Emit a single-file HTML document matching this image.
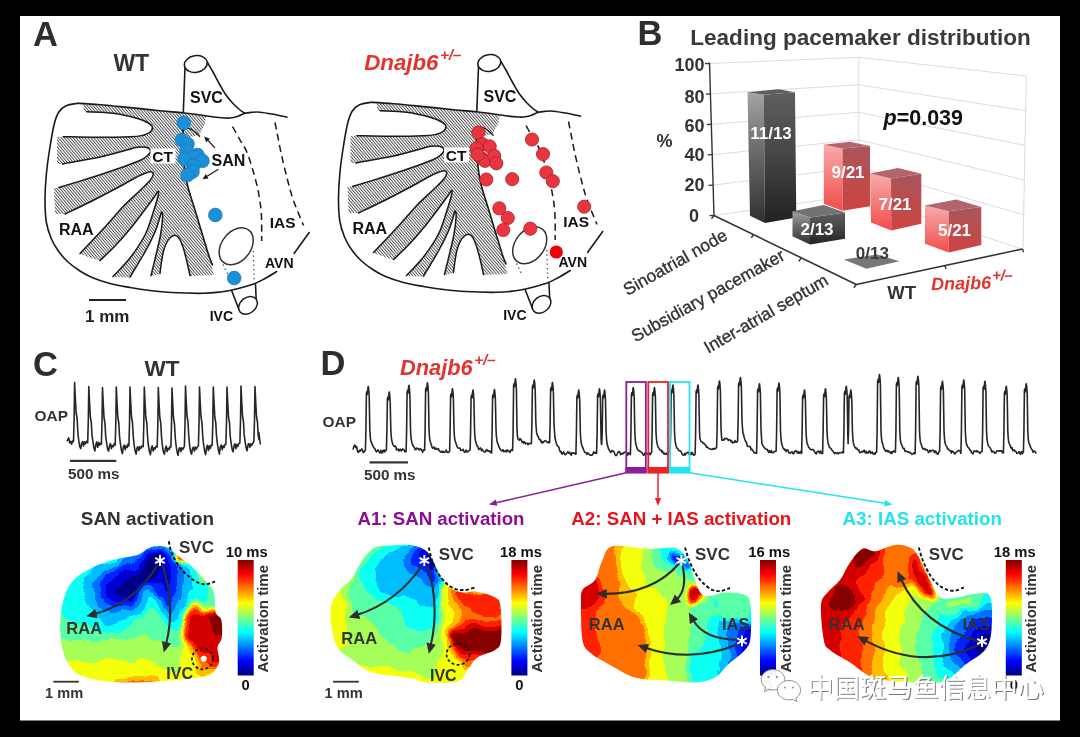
<!DOCTYPE html>
<html><head><meta charset="utf-8"><title>Figure</title>
<style>
html,body{margin:0;padding:0;background:#000;}
body{width:1080px;height:737px;overflow:hidden;font-family:"Liberation Sans",sans-serif;}
svg{display:block;filter:blur(0.45px);}
text{font-family:"Liberation Sans",sans-serif;}
</style></head><body>
<svg width="1080" height="737" viewBox="0 0 1080 737">
<defs><pattern id="hatch" patternUnits="userSpaceOnUse" width="2.25" height="2.25" patternTransform="rotate(50)"><rect width="2.25" height="2.25" fill="#fff"/><line x1="0" y1="1" x2="2.25" y2="1" stroke="#333" stroke-width="0.84"/></pattern><g id="atrium"><path d="M83.0 104.0 L130.0 107.8 L183.0 113.0 L206.0 116.2 L205.0 124.0 L199.0 135.0 L186.0 138.0 L184.0 150.0 L186.5 181.0 L195.0 210.0 L208.0 253.0 L214.0 275.0 L190.0 276.0 L160.0 274.0 L151.0 276.0 L130.0 277.5 L113.0 277.0 L100.0 261.0 L80.0 254.0 L55.0 214.0 L54.0 188.0 L57.0 164.0 L57.0 137.0 L84.0 112.0Z" fill="url(#hatch)"/><path d="M86.7 111.7 C91.1 112.0 105.0 112.2 113.3 113.3 C121.6 114.4 130.9 116.7 136.7 118.3 C142.5 119.9 145.7 121.5 148.3 123.0 C150.9 124.5 152.3 125.9 152.5 127.5 C152.7 129.1 151.1 131.2 149.5 132.5 C147.9 133.8 146.2 134.6 143.0 135.3 C139.8 136.0 137.7 136.5 130.0 136.8 C122.3 137.1 107.8 137.3 96.7 137.3 C85.6 137.3 68.9 136.8 63.3 136.7 L38.0 137.0 L38.0 111.7Z" fill="#fff"/><path d="M86.7 111.7 C91.1 112.0 105.0 112.2 113.3 113.3 C121.6 114.4 130.9 116.7 136.7 118.3 C142.5 119.9 145.7 121.5 148.3 123.0 C150.9 124.5 152.3 125.9 152.5 127.5 C152.7 129.1 151.1 131.2 149.5 132.5 C147.9 133.8 146.2 134.6 143.0 135.3 C139.8 136.0 137.7 136.5 130.0 136.8 C122.3 137.1 107.8 137.3 96.7 137.3 C85.6 137.3 68.9 136.8 63.3 136.7" fill="none" stroke="#1a1a1a" stroke-width="1.5" stroke-linecap="round"/><path d="M62.5 164.0 C68.8 162.8 89.6 159.2 100.0 157.0 C110.4 154.8 118.8 152.1 125.0 150.5 C131.2 148.9 133.5 147.8 137.0 147.3 C140.5 146.8 143.8 146.7 146.0 147.3 C148.2 147.9 150.3 149.6 150.5 151.0 C150.7 152.4 148.8 154.4 147.0 156.0 C145.2 157.6 144.5 158.5 140.0 160.5 C135.5 162.5 128.3 165.1 120.0 168.0 C111.7 170.9 100.2 174.8 90.0 178.0 C79.8 181.2 64.2 185.9 59.0 187.5 L35.0 190.0 L35.0 164.0Z" fill="#fff"/><path d="M62.5 164.0 C68.8 162.8 89.6 159.2 100.0 157.0 C110.4 154.8 118.8 152.1 125.0 150.5 C131.2 148.9 133.5 147.8 137.0 147.3 C140.5 146.8 143.8 146.7 146.0 147.3 C148.2 147.9 150.3 149.6 150.5 151.0 C150.7 152.4 148.8 154.4 147.0 156.0 C145.2 157.6 144.5 158.5 140.0 160.5 C135.5 162.5 128.3 165.1 120.0 168.0 C111.7 170.9 100.2 174.8 90.0 178.0 C79.8 181.2 64.2 185.9 59.0 187.5" fill="none" stroke="#1a1a1a" stroke-width="1.5" stroke-linecap="round"/><path d="M65.0 214.0 C69.2 212.0 81.7 206.2 90.0 202.0 C98.3 197.8 107.5 193.0 115.0 189.0 C122.5 185.0 130.0 180.6 135.0 178.0 C140.0 175.4 142.3 174.3 145.0 173.3 C147.7 172.3 149.6 171.6 151.0 171.8 C152.4 172.0 153.4 173.1 153.2 174.5 C153.0 175.9 152.2 177.8 150.0 180.5 C147.8 183.2 144.5 186.1 140.0 190.5 C135.5 194.9 128.8 200.6 123.0 206.7 C117.2 212.8 112.2 219.2 105.0 227.0 C97.8 234.8 84.2 249.1 80.0 253.5 L40.0 258.0 L40.0 214.0Z" fill="#fff"/><path d="M65.0 214.0 C69.2 212.0 81.7 206.2 90.0 202.0 C98.3 197.8 107.5 193.0 115.0 189.0 C122.5 185.0 130.0 180.6 135.0 178.0 C140.0 175.4 142.3 174.3 145.0 173.3 C147.7 172.3 149.6 171.6 151.0 171.8 C152.4 172.0 153.4 173.1 153.2 174.5 C153.0 175.9 152.2 177.8 150.0 180.5 C147.8 183.2 144.5 186.1 140.0 190.5 C135.5 194.9 128.8 200.6 123.0 206.7 C117.2 212.8 112.2 219.2 105.0 227.0 C97.8 234.8 84.2 249.1 80.0 253.5" fill="none" stroke="#1a1a1a" stroke-width="1.5" stroke-linecap="round"/><path d="M100.0 260.5 C102.5 258.1 110.0 251.2 115.0 246.0 C120.0 240.8 125.0 235.1 130.0 229.0 C135.0 222.9 140.8 215.0 145.0 209.5 C149.2 204.0 152.8 199.1 155.0 196.0 C157.2 192.9 157.8 191.0 158.3 191.2 C158.8 191.4 158.7 193.4 157.8 197.0 C156.9 200.6 155.1 206.7 153.0 213.0 C150.9 219.3 148.8 227.5 145.0 235.0 C141.2 242.5 135.3 251.1 130.0 258.0 C124.7 264.9 115.8 273.4 113.0 276.5 L105.0 282.0Z" fill="#fff"/><path d="M100.0 260.5 C102.5 258.1 110.0 251.2 115.0 246.0 C120.0 240.8 125.0 235.1 130.0 229.0 C135.0 222.9 140.8 215.0 145.0 209.5 C149.2 204.0 152.8 199.1 155.0 196.0 C157.2 192.9 157.8 191.0 158.3 191.2 C158.8 191.4 158.7 193.4 157.8 197.0 C156.9 200.6 155.1 206.7 153.0 213.0 C150.9 219.3 148.8 227.5 145.0 235.0 C141.2 242.5 135.3 251.1 130.0 258.0 C124.7 264.9 115.8 273.4 113.0 276.5" fill="none" stroke="#1a1a1a" stroke-width="1.5" stroke-linecap="round"/><path d="M130.0 277.0 C132.5 272.8 140.8 259.5 145.0 252.0 C149.2 244.5 152.5 237.8 155.0 232.0 C157.5 226.2 158.9 220.3 160.0 217.0 C161.1 213.7 161.3 211.8 161.7 212.0 C162.1 212.2 162.8 214.2 162.6 218.0 C162.4 221.8 161.6 228.8 160.5 235.0 C159.4 241.2 157.6 248.2 156.0 255.0 C154.4 261.8 151.8 272.1 151.0 275.5 L140.0 283.0Z" fill="#fff"/><path d="M130.0 277.0 C132.5 272.8 140.8 259.5 145.0 252.0 C149.2 244.5 152.5 237.8 155.0 232.0 C157.5 226.2 158.9 220.3 160.0 217.0 C161.1 213.7 161.3 211.8 161.7 212.0 C162.1 212.2 162.8 214.2 162.6 218.0 C162.4 221.8 161.6 228.8 160.5 235.0 C159.4 241.2 157.6 248.2 156.0 255.0 C154.4 261.8 151.8 272.1 151.0 275.5" fill="none" stroke="#1a1a1a" stroke-width="1.5" stroke-linecap="round"/><path d="M160.0 273.5 C160.2 271.6 160.9 265.8 161.5 262.0 C162.1 258.2 162.6 254.3 163.5 251.0 C164.4 247.7 165.8 244.3 167.0 242.0 C168.2 239.7 169.7 238.1 171.0 237.0 C172.3 235.9 173.7 235.1 175.0 235.3 C176.3 235.5 177.7 236.1 179.0 238.0 C180.3 239.9 181.7 243.0 183.0 247.0 C184.3 251.0 185.8 257.2 187.0 262.0 C188.2 266.8 189.5 273.2 190.0 275.5 L190.0 282.0 L160.0 282.0Z" fill="#fff"/><path d="M160.0 273.5 C160.2 271.6 160.9 265.8 161.5 262.0 C162.1 258.2 162.6 254.3 163.5 251.0 C164.4 247.7 165.8 244.3 167.0 242.0 C168.2 239.7 169.7 238.1 171.0 237.0 C172.3 235.9 173.7 235.1 175.0 235.3 C176.3 235.5 177.7 236.1 179.0 238.0 C180.3 239.9 181.7 243.0 183.0 247.0 C184.3 251.0 185.8 257.2 187.0 262.0 C188.2 266.8 189.5 273.2 190.0 275.5" fill="none" stroke="#1a1a1a" stroke-width="1.5" stroke-linecap="round"/><path d="M78.0 103.3 C76.0 103.7 69.2 104.3 66.0 105.8 C62.8 107.3 60.5 109.3 58.5 112.5 C56.5 115.7 55.5 118.8 54.0 125.0 C52.5 131.2 50.8 141.7 49.5 150.0 C48.2 158.3 47.0 166.7 46.3 175.0 C45.5 183.3 45.0 192.2 45.0 200.0 C45.0 207.8 45.3 215.7 46.3 222.0 C47.3 228.3 49.0 233.2 51.0 238.0 C53.0 242.8 55.2 246.5 58.0 250.5 C60.8 254.5 64.3 258.6 68.0 262.0 C71.7 265.4 76.0 268.4 80.0 271.0 C84.0 273.6 87.0 275.4 92.0 277.5 C97.0 279.6 103.7 281.8 110.0 283.5 C116.3 285.2 123.3 286.3 130.0 287.5 C136.7 288.7 143.0 289.7 150.0 290.5 C157.0 291.3 163.2 292.0 172.0 292.5 C180.8 293.0 195.0 293.4 203.0 293.3 C211.0 293.2 215.2 292.6 220.0 292.0 C224.8 291.4 226.5 291.3 232.0 290.0 C237.5 288.7 247.5 286.1 253.0 284.2 C258.5 282.3 261.1 280.6 265.0 278.5 C268.9 276.4 274.8 272.7 276.7 271.5" fill="none" stroke="#1a1a1a" stroke-width="1.6" stroke-linecap="round" stroke-linejoin="round"/><path d="M78.0 103.3 C81.7 103.5 91.3 104.0 100.0 104.7 C108.7 105.4 120.0 106.6 130.0 107.6 C140.0 108.6 151.2 109.8 160.0 110.7 C168.8 111.6 176.3 112.1 183.0 112.8 C189.7 113.5 195.2 114.3 200.0 115.0 C204.8 115.7 207.8 116.3 212.0 116.8 C216.2 117.3 221.7 117.8 225.0 118.0 C228.3 118.2 229.8 118.1 232.0 117.8 C234.2 117.5 235.8 117.0 238.0 116.2 C240.2 115.5 242.7 114.0 245.0 113.3 C247.3 112.6 249.5 112.5 252.0 112.3 C254.5 112.1 256.7 111.9 260.0 112.2 C263.3 112.5 267.5 113.2 272.0 114.0 C276.5 114.8 284.5 116.7 287.0 117.2" fill="none" stroke="#1a1a1a" stroke-width="1.6" stroke-linecap="round" stroke-linejoin="round"/><path d="M183.3 112.5 L185 67.5" fill="none" stroke="#1a1a1a" stroke-width="1.6" stroke-linecap="round" stroke-linejoin="round"/><path d="M207.5 62.5 C208.4 64.1 210.9 68.2 213.0 72.0 C215.1 75.8 217.8 81.2 220.0 85.0 C222.2 88.8 223.8 91.9 226.0 95.0 C228.2 98.1 230.7 101.0 233.0 103.5 C235.3 106.0 238.0 108.4 240.0 110.0 C242.0 111.6 244.2 112.8 245.0 113.3" fill="none" stroke="#1a1a1a" stroke-width="1.6" stroke-linecap="round" stroke-linejoin="round"/><ellipse cx="195.8" cy="64" rx="11.5" ry="8.3" transform="rotate(-9 195.8 64)" fill="#fff" stroke="#1a1a1a" stroke-width="1.5"/><path d="M183.3 128.0 C183.2 131.7 182.5 141.2 183.0 150.0 C183.5 158.8 184.5 171.0 186.5 181.0 C188.5 191.0 191.4 198.0 195.0 210.0 C198.6 222.0 205.1 243.8 208.0 253.0 C210.9 262.2 211.8 263.0 212.5 265.0" fill="none" stroke="#1a1a1a" stroke-width="1.6" stroke-linecap="round" stroke-linejoin="round"/><path d="M181.7 131.0 C182.2 130.6 183.8 129.0 185.0 128.6 C186.2 128.2 187.4 127.8 189.0 128.3 C190.6 128.8 192.7 130.1 194.5 131.5 C196.3 132.9 199.1 135.8 200.0 136.7" fill="none" stroke="#1a1a1a" stroke-width="1.3"/><path d="M232.5 126.7 C233.8 128.9 237.6 135.8 240.0 140.0 C242.4 144.2 244.5 146.4 246.7 151.7 C248.9 157.0 251.4 165.0 253.3 171.7 C255.2 178.4 257.0 184.8 258.3 191.7 C259.6 198.6 260.7 205.1 261.3 213.3 C261.9 221.5 261.6 236.4 261.7 241.0" fill="none" stroke="#1a1a1a" stroke-width="1.5" stroke-dasharray="7 4.5"/><path d="M275.0 122.5 C275.4 124.6 276.5 130.1 277.5 135.0 C278.5 139.9 279.3 144.8 280.8 151.7 C282.3 158.6 284.6 168.6 286.7 176.7 C288.8 184.8 290.5 191.9 293.3 200.0 C296.1 208.1 301.8 221.2 303.5 225.5" fill="none" stroke="#1a1a1a" stroke-width="1.5" stroke-dasharray="7 4.5"/><path d="M309.2 232.5 L294.2 253.3" fill="none" stroke="#1a1a1a" stroke-width="1.6" stroke-linecap="round" stroke-linejoin="round"/><ellipse cx="236.2" cy="246.3" rx="20.5" ry="14.5" transform="rotate(-52 236.2 246.3)" fill="none" stroke="#333" stroke-width="1.5"/><path d="M223 264.5 L228.6 276" fill="none" stroke="#444" stroke-width="1.3" stroke-dasharray="1.3 3.2"/><path d="M253.3 251 L254.3 282.5" fill="none" stroke="#444" stroke-width="1.3" stroke-dasharray="1.3 3.2"/><path d="M231.7 290.8 L239.2 310" fill="none" stroke="#1a1a1a" stroke-width="1.6" stroke-linecap="round" stroke-linejoin="round"/><path d="M255.5 284.2 L256.3 302.5" fill="none" stroke="#1a1a1a" stroke-width="1.6" stroke-linecap="round" stroke-linejoin="round"/><ellipse cx="248" cy="305.3" rx="10.3" ry="7.8" transform="rotate(-40 248 305.3)" fill="#fff" stroke="#1a1a1a" stroke-width="1.5"/><rect x="150.5" y="148.5" width="25" height="15" fill="#fff"/><text x="152.3" y="161.8" font-size="15.5" font-family="Liberation Sans, sans-serif" font-weight="bold" fill="#111">CT</text><text x="59" y="235" font-size="16" font-family="Liberation Sans, sans-serif" font-weight="bold" fill="#111">RAA</text><text x="190" y="103.3" font-size="16" font-family="Liberation Sans, sans-serif" font-weight="bold" fill="#111">SVC</text><text x="269.7" y="227.6" font-size="15.5" font-family="Liberation Sans, sans-serif" font-weight="bold" fill="#111">IAS</text><text x="265" y="268.3" font-size="14" font-family="Liberation Sans, sans-serif" font-weight="bold" fill="#111">AVN</text><text x="209.7" y="320.8" font-size="14" font-family="Liberation Sans, sans-serif" font-weight="bold" fill="#111">IVC</text></g><linearGradient id="gL" x1="0" y1="0" x2="0" y2="1"><stop offset="0" stop-color="#a4a4a4"/><stop offset="0.45" stop-color="#6a6a6a"/><stop offset="1" stop-color="#303030"/></linearGradient><linearGradient id="gF" x1="0" y1="0" x2="0" y2="1"><stop offset="0" stop-color="#5e5e5e"/><stop offset="0.5" stop-color="#444"/><stop offset="1" stop-color="#222"/></linearGradient><linearGradient id="rL" x1="0" y1="0" x2="0" y2="1"><stop offset="0" stop-color="#f7abab"/><stop offset="1" stop-color="#f24c4a"/></linearGradient><linearGradient id="rF" x1="0" y1="0" x2="0" y2="1"><stop offset="0" stop-color="#a8565c"/><stop offset="1" stop-color="#cf4341"/></linearGradient><filter id="jet" filterUnits="userSpaceOnUse" x="0" y="500" width="1080" height="237" color-interpolation-filters="sRGB"><feGaussianBlur in="SourceGraphic" stdDeviation="3.2" result="b"/><feTurbulence type="fractalNoise" baseFrequency="0.05" numOctaves="2" seed="4" result="t"/><feDisplacementMap in="b" in2="t" scale="13" xChannelSelector="R" yChannelSelector="G" result="d"/><feComponentTransfer in="d"><feFuncR type="discrete" tableValues="0.000 0.000 0.000 0.000 0.000 0.046 0.349 0.651 0.954 1.000 1.000 1.000 0.834 0.531"/><feFuncG type="discrete" tableValues="0.000 0.000 0.137 0.440 0.743 1.000 1.000 1.000 1.000 0.743 0.440 0.137 0.000 0.000"/><feFuncB type="discrete" tableValues="0.531 0.834 1.000 1.000 1.000 0.954 0.651 0.349 0.046 0.000 0.000 0.000 0.000 0.000"/></feComponentTransfer></filter><linearGradient id="cbar" x1="0" y1="1" x2="0" y2="0"><stop offset="0.000" stop-color="#00007f"/><stop offset="0.031" stop-color="#00009f"/><stop offset="0.062" stop-color="#0000bf"/><stop offset="0.094" stop-color="#0000df"/><stop offset="0.125" stop-color="#0000ff"/><stop offset="0.156" stop-color="#001fff"/><stop offset="0.188" stop-color="#003fff"/><stop offset="0.219" stop-color="#005fff"/><stop offset="0.250" stop-color="#007fff"/><stop offset="0.281" stop-color="#009fff"/><stop offset="0.312" stop-color="#00bfff"/><stop offset="0.344" stop-color="#00dfff"/><stop offset="0.375" stop-color="#00ffff"/><stop offset="0.406" stop-color="#1fffdf"/><stop offset="0.438" stop-color="#3fffbf"/><stop offset="0.469" stop-color="#5fff9f"/><stop offset="0.500" stop-color="#7fff7f"/><stop offset="0.531" stop-color="#9fff5f"/><stop offset="0.562" stop-color="#bfff3f"/><stop offset="0.594" stop-color="#dfff1f"/><stop offset="0.625" stop-color="#ffff00"/><stop offset="0.656" stop-color="#ffdf00"/><stop offset="0.688" stop-color="#ffbf00"/><stop offset="0.719" stop-color="#ff9f00"/><stop offset="0.750" stop-color="#ff7f00"/><stop offset="0.781" stop-color="#ff5f00"/><stop offset="0.812" stop-color="#ff3f00"/><stop offset="0.844" stop-color="#ff1f00"/><stop offset="0.875" stop-color="#ff0000"/><stop offset="0.906" stop-color="#df0000"/><stop offset="0.938" stop-color="#bf0000"/><stop offset="0.969" stop-color="#9f0000"/><stop offset="1.000" stop-color="#7f0000"/></linearGradient><linearGradient id="gA2" gradientUnits="userSpaceOnUse" x1="582.0" y1="0.0" x2="748.0" y2="0.0"><stop offset="0.00" stop-color="rgb(214,214,214)"/><stop offset="0.09" stop-color="rgb(200,200,200)"/><stop offset="0.24" stop-color="rgb(182,182,182)"/><stop offset="0.31" stop-color="rgb(164,164,164)"/><stop offset="0.50" stop-color="rgb(146,146,146)"/><stop offset="0.66" stop-color="rgb(128,128,128)"/><stop offset="0.75" stop-color="rgb(110,110,110)"/><stop offset="0.82" stop-color="rgb(91,91,91)"/><stop offset="0.88" stop-color="rgb(73,73,73)"/><stop offset="0.93" stop-color="rgb(55,55,55)"/><stop offset="0.97" stop-color="rgb(36,36,36)"/><stop offset="1.00" stop-color="rgb(20,20,20)"/></linearGradient><radialGradient id="gA3" gradientUnits="userSpaceOnUse" cx="986" cy="646" r="170"><stop offset="0.00" stop-color="rgb(0,0,0)"/><stop offset="0.09" stop-color="rgb(26,26,26)"/><stop offset="0.16" stop-color="rgb(51,51,51)"/><stop offset="0.22" stop-color="rgb(76,76,76)"/><stop offset="0.29" stop-color="rgb(102,102,102)"/><stop offset="0.38" stop-color="rgb(122,122,122)"/><stop offset="0.45" stop-color="rgb(135,135,135)"/><stop offset="0.53" stop-color="rgb(148,148,148)"/><stop offset="0.61" stop-color="rgb(163,163,163)"/><stop offset="0.69" stop-color="rgb(189,189,189)"/><stop offset="0.75" stop-color="rgb(204,204,204)"/><stop offset="0.85" stop-color="rgb(219,219,219)"/><stop offset="1.00" stop-color="rgb(230,230,230)"/></radialGradient><clipPath id="clipC"><path d="M155.0 546.3 C157.6 545.9 160.5 546.1 163.0 546.5 C165.5 546.9 167.2 547.0 170.0 548.8 C172.8 550.6 176.7 554.8 180.0 557.5 C183.3 560.2 185.8 561.2 190.0 565.0 C194.2 568.8 201.0 575.4 205.0 580.0 C209.0 584.6 212.1 587.2 213.8 592.5 C215.6 597.8 214.2 607.4 215.5 612.0 C216.8 616.6 220.2 615.8 221.3 620.0 C222.4 624.2 222.4 632.9 221.8 637.5 C221.2 642.1 218.0 643.3 217.5 647.5 C217.0 651.7 220.2 657.9 219.0 662.5 C217.8 667.1 214.4 672.4 210.0 675.0 C205.6 677.6 199.2 677.1 192.5 678.0 C185.8 678.9 179.6 679.8 170.0 680.5 C160.4 681.2 145.8 682.4 135.0 682.5 C124.2 682.6 114.2 682.5 105.0 681.3 C95.8 680.0 86.2 678.1 80.0 675.0 C73.8 671.9 70.6 667.9 67.5 662.5 C64.4 657.1 62.5 650.0 61.3 642.5 C60.1 635.0 59.9 625.4 60.5 617.5 C61.1 609.6 62.6 601.5 65.0 595.0 C67.4 588.5 70.0 583.6 75.0 578.8 C80.0 574.0 87.9 569.6 95.0 566.3 C102.1 563.0 110.4 560.7 117.5 558.8 C124.6 556.9 132.5 556.7 137.5 555.0 C142.5 553.3 144.6 550.2 147.5 548.8 C150.4 547.3 152.4 546.7 155.0 546.3Z"/></clipPath><clipPath id="clipA1"><path d="M375.0 547.5 C379.9 545.1 386.2 545.9 392.0 545.5 C397.8 545.1 404.5 544.2 410.0 545.0 C415.5 545.8 421.2 547.5 425.0 550.0 C428.8 552.5 430.0 555.8 432.5 560.0 C435.0 564.2 437.1 570.4 440.0 575.0 C442.9 579.6 446.2 584.6 450.0 587.5 C453.8 590.4 458.3 591.9 462.5 592.5 C466.7 593.1 469.6 590.5 475.0 591.3 C480.4 592.1 490.8 595.0 495.0 597.5 C499.2 600.0 499.5 598.9 500.5 606.0 C501.5 613.1 501.9 632.7 501.0 640.0 C500.1 647.3 498.9 647.1 495.0 650.0 C491.1 652.9 482.1 654.2 477.5 657.5 C472.9 660.8 470.8 666.0 467.5 670.0 C464.2 674.0 464.2 679.4 457.5 681.5 C450.8 683.6 435.4 683.1 427.5 682.5 C419.6 681.9 419.2 679.7 410.0 678.0 C400.8 676.3 382.1 675.5 372.5 672.5 C362.9 669.5 358.3 664.2 352.5 660.0 C346.7 655.8 341.0 653.3 337.5 647.5 C334.0 641.7 332.3 632.1 331.3 625.0 C330.3 617.9 329.9 610.8 331.3 605.0 C332.8 599.2 336.5 594.6 340.0 590.0 C343.5 585.4 348.8 582.5 352.5 577.5 C356.2 572.5 358.8 565.0 362.5 560.0 C366.2 555.0 370.1 549.9 375.0 547.5Z"/></clipPath><clipPath id="clipA2"><path d="M612.5 546.3 C620.0 544.4 637.5 548.6 647.5 548.8 C657.5 549.0 666.7 546.9 672.5 547.5 C678.3 548.1 679.6 549.6 682.5 552.5 C685.4 555.4 687.9 560.4 690.0 565.0 C692.1 569.6 693.1 575.2 695.0 580.0 C696.9 584.8 698.8 591.1 701.3 593.8 C703.8 596.5 706.0 596.2 710.0 596.0 C714.0 595.8 719.2 592.7 725.0 592.5 C730.8 592.3 740.8 592.9 745.0 595.0 C749.2 597.1 749.6 597.9 750.5 605.0 C751.4 612.1 751.4 630.0 750.5 637.5 C749.6 645.0 748.8 645.4 745.0 650.0 C741.2 654.6 732.5 660.4 727.5 665.0 C722.5 669.6 720.4 674.6 715.0 677.5 C709.6 680.4 703.3 682.0 695.0 682.5 C686.7 683.0 675.0 681.3 665.0 680.5 C655.0 679.7 644.2 680.1 635.0 677.5 C625.8 674.9 617.5 669.2 610.0 665.0 C602.5 660.8 594.6 656.7 590.0 652.5 C585.4 648.3 584.0 647.9 582.5 640.0 C581.0 632.1 581.0 613.3 581.0 605.0 C581.0 596.7 580.2 594.2 582.5 590.0 C584.8 585.8 591.7 585.0 595.0 580.0 C598.3 575.0 599.6 565.6 602.5 560.0 C605.4 554.4 605.0 548.2 612.5 546.3Z"/></clipPath><clipPath id="clipA3"><path d="M862.5 548.8 C866.7 546.9 869.6 551.9 875.0 551.3 C880.4 550.7 889.2 545.6 895.0 545.0 C900.8 544.4 906.2 545.8 910.0 547.5 C913.8 549.2 915.0 551.2 917.5 555.0 C920.0 558.8 922.5 565.0 925.0 570.0 C927.5 575.0 930.0 580.4 932.5 585.0 C935.0 589.6 936.2 595.3 940.0 597.5 C943.8 599.7 949.2 598.6 955.0 598.0 C960.8 597.4 969.2 594.1 975.0 593.8 C980.8 593.5 987.2 590.3 990.0 596.3 C992.8 602.3 992.3 621.0 991.5 630.0 C990.7 639.0 989.4 644.2 985.0 650.0 C980.6 655.8 971.2 660.0 965.0 665.0 C958.8 670.0 953.3 677.0 947.5 680.0 C941.7 683.0 937.9 682.8 930.0 683.0 C922.1 683.2 909.6 682.4 900.0 681.5 C890.4 680.6 880.8 680.7 872.5 677.5 C864.2 674.3 857.1 667.1 850.0 662.5 C842.9 657.9 834.4 653.8 830.0 650.0 C825.6 646.2 825.3 647.5 823.8 640.0 C822.3 632.5 820.4 612.9 821.0 605.0 C821.6 597.1 824.3 596.7 827.5 592.5 C830.7 588.3 836.2 585.0 840.0 580.0 C843.8 575.0 846.2 567.7 850.0 562.5 C853.8 557.3 858.3 550.7 862.5 548.8Z"/></clipPath></defs>
<rect x="0" y="0" width="1080" height="737" fill="#000"/>
<rect x="20" y="16" width="1040" height="704.5" fill="#fff"/>
<text x="33" y="45.6" font-size="34.5" font-family="Liberation Sans, sans-serif" font-weight="bold" fill="#2e2e2e">A</text><text x="113.4" y="71.1" font-size="23" font-family="Liberation Sans, sans-serif" font-weight="bold" fill="#333">WT</text><use href="#atrium"/><text x="211.5" y="165.8" font-size="16" font-family="Liberation Sans, sans-serif" font-weight="bold" fill="#111">SAN</text><path d="M215.0 147.8 L208.0 140.5" stroke="#1a1a1a" stroke-width="1.2"/><path d="M204.2 136.5 L209.9 138.7 L206.1 142.3 Z" fill="#1a1a1a"/><path d="M218.3 169.2 L207.1 176.3" stroke="#1a1a1a" stroke-width="1.2"/><path d="M202.5 179.2 L205.8 174.1 L208.5 178.5 Z" fill="#1a1a1a"/><circle cx="183.7" cy="122.8" r="6.9" fill="#1b8fd8" stroke="#1576b8" stroke-width="0.6"/><circle cx="182.0" cy="140.0" r="6.9" fill="#1b8fd8" stroke="#1576b8" stroke-width="0.6"/><circle cx="187.5" cy="144.0" r="6.9" fill="#1b8fd8" stroke="#1576b8" stroke-width="0.6"/><circle cx="186.7" cy="150.8" r="6.9" fill="#1b8fd8" stroke="#1576b8" stroke-width="0.6"/><circle cx="197.5" cy="155.0" r="6.9" fill="#1b8fd8" stroke="#1576b8" stroke-width="0.6"/><circle cx="193.3" cy="157.5" r="6.9" fill="#1b8fd8" stroke="#1576b8" stroke-width="0.6"/><circle cx="184.7" cy="159.0" r="6.9" fill="#1b8fd8" stroke="#1576b8" stroke-width="0.6"/><circle cx="202.5" cy="160.8" r="6.9" fill="#1b8fd8" stroke="#1576b8" stroke-width="0.6"/><circle cx="193.3" cy="165.8" r="6.9" fill="#1b8fd8" stroke="#1576b8" stroke-width="0.6"/><circle cx="192.5" cy="171.7" r="6.9" fill="#1b8fd8" stroke="#1576b8" stroke-width="0.6"/><circle cx="187.5" cy="175.0" r="6.9" fill="#1b8fd8" stroke="#1576b8" stroke-width="0.6"/><circle cx="215.3" cy="215.0" r="6.9" fill="#1b8fd8" stroke="#1576b8" stroke-width="0.6"/><circle cx="234.2" cy="278.0" r="6.9" fill="#1b8fd8" stroke="#1576b8" stroke-width="0.6"/><rect x="89" y="299" width="37" height="2" fill="#222"/><text x="85" y="321.8" font-size="17" font-family="Liberation Sans, sans-serif" font-weight="bold" fill="#222">1 mm</text><use href="#atrium" transform="translate(293.5 -1.0)"/><text x="364.2" y="69.8" font-size="22.3" font-style="italic" font-family="Liberation Sans, sans-serif" font-weight="bold" fill="#e0352f">Dnajb6<tspan font-size="15.5" dy="-9.8" dx="1.5" letter-spacing="-0.3">+/–</tspan></text><circle cx="478.3" cy="132.5" r="6.6" fill="#e9353f" stroke="#a8232c" stroke-width="0.8"/><circle cx="482.5" cy="144.2" r="6.6" fill="#e9353f" stroke="#a8232c" stroke-width="0.8"/><circle cx="476.7" cy="148.3" r="6.6" fill="#e9353f" stroke="#a8232c" stroke-width="0.8"/><circle cx="489.7" cy="146.3" r="6.6" fill="#e9353f" stroke="#a8232c" stroke-width="0.8"/><circle cx="481.7" cy="158.3" r="6.6" fill="#e9353f" stroke="#a8232c" stroke-width="0.8"/><circle cx="485.0" cy="160.8" r="6.6" fill="#e9353f" stroke="#a8232c" stroke-width="0.8"/><circle cx="494.2" cy="155.8" r="6.6" fill="#e9353f" stroke="#a8232c" stroke-width="0.8"/><circle cx="477.5" cy="154.7" r="6.6" fill="#e9353f" stroke="#a8232c" stroke-width="0.8"/><circle cx="496.3" cy="163.3" r="6.6" fill="#e9353f" stroke="#a8232c" stroke-width="0.8"/><circle cx="486.3" cy="179.5" r="6.6" fill="#e9353f" stroke="#a8232c" stroke-width="0.8"/><circle cx="512.2" cy="179.2" r="6.6" fill="#e9353f" stroke="#a8232c" stroke-width="0.8"/><circle cx="532.0" cy="139.5" r="6.6" fill="#e9353f" stroke="#a8232c" stroke-width="0.8"/><circle cx="543.0" cy="154.2" r="6.6" fill="#e9353f" stroke="#a8232c" stroke-width="0.8"/><circle cx="546.3" cy="172.5" r="6.6" fill="#e9353f" stroke="#a8232c" stroke-width="0.8"/><circle cx="552.8" cy="181.2" r="6.6" fill="#e9353f" stroke="#a8232c" stroke-width="0.8"/><circle cx="584.2" cy="206.7" r="6.6" fill="#e9353f" stroke="#a8232c" stroke-width="0.8"/><circle cx="499.3" cy="208.3" r="6.6" fill="#e9353f" stroke="#a8232c" stroke-width="0.8"/><circle cx="507.8" cy="218.0" r="6.6" fill="#e9353f" stroke="#a8232c" stroke-width="0.8"/><circle cx="503.3" cy="230.0" r="6.6" fill="#e9353f" stroke="#a8232c" stroke-width="0.8"/><circle cx="530.3" cy="228.7" r="6.6" fill="#e9353f" stroke="#a8232c" stroke-width="0.8"/><circle cx="556.3" cy="252" r="6.6" fill="#f00008"/>
<text x="637.5" y="45.4" font-size="34.5" font-family="Liberation Sans, sans-serif" font-weight="bold" fill="#2e2e2e">B</text><text x="690.3" y="45.3" font-size="21.6" font-family="Liberation Sans, sans-serif" font-weight="bold" fill="#3a3a3a" textLength="340.5" lengthAdjust="spacingAndGlyphs">Leading pacemaker distribution</text><path d="M709.5 63.5 L858.8 57.3 L1026.3 76.0" fill="none" stroke="#dcdcdc" stroke-width="1"/><path d="M705.0 63.7 L709.5 63.5" stroke="#333" stroke-width="1.3"/><path d="M710.4 93.9 L858.8 84.8 L1025.6 110.7" fill="none" stroke="#dcdcdc" stroke-width="1"/><path d="M705.9 94.1 L710.4 93.9" stroke="#333" stroke-width="1.3"/><path d="M711.3 124.3 L858.8 112.3 L1025.0 145.4" fill="none" stroke="#dcdcdc" stroke-width="1"/><path d="M706.8 124.5 L711.3 124.3" stroke="#333" stroke-width="1.3"/><path d="M712.2 154.7 L858.8 139.8 L1024.3 180.1" fill="none" stroke="#dcdcdc" stroke-width="1"/><path d="M707.7 154.9 L712.2 154.7" stroke="#333" stroke-width="1.3"/><path d="M713.1 185.1 L858.8 167.3 L1023.7 214.8" fill="none" stroke="#dcdcdc" stroke-width="1"/><path d="M708.6 185.3 L713.1 185.1" stroke="#333" stroke-width="1.3"/><path d="M714.0 215.5 L858.8 194.8 L1023.0 249.5" fill="none" stroke="#dcdcdc" stroke-width="1"/><path d="M709.5 215.7 L714.0 215.5" stroke="#333" stroke-width="1.3"/><path d="M858.8 57.3 L858.8 194.8" stroke="#dcdcdc" stroke-width="1"/><path d="M1026.3 76.0 L1023.0 249.5" stroke="#dcdcdc" stroke-width="1"/><path d="M709.5 62.5 L714.0 215.5" stroke="#333" stroke-width="1.4"/><text x="704.5" y="71.3" font-size="18" text-anchor="end" font-family="Liberation Sans, sans-serif" font-weight="bold" fill="#333">100</text><text x="704.5" y="102.5" font-size="18" text-anchor="end" font-family="Liberation Sans, sans-serif" font-weight="bold" fill="#333">80</text><text x="704.5" y="132.0" font-size="18" text-anchor="end" font-family="Liberation Sans, sans-serif" font-weight="bold" fill="#333">60</text><text x="704.5" y="161.3" font-size="18" text-anchor="end" font-family="Liberation Sans, sans-serif" font-weight="bold" fill="#333">40</text><text x="704.5" y="191.3" font-size="18" text-anchor="end" font-family="Liberation Sans, sans-serif" font-weight="bold" fill="#333">20</text><text x="699.0" y="221.5" font-size="18" text-anchor="end" font-family="Liberation Sans, sans-serif" font-weight="bold" fill="#333">0</text><text x="656.5" y="147" font-size="18" font-family="Liberation Sans, sans-serif" font-weight="bold" fill="#333">%</text><path d="M747.5 92.3 L763.8 94.8 L765.0 223.0 L750.0 215.8Z" fill="url(#gL)"/><path d="M763.8 94.8 L795.0 92.3 L796.3 217.5 L765.0 223.0Z" fill="url(#gF)"/><path d="M747.5 92.3 L763.8 94.8 L795.0 92.3 L778.8 89.3Z" fill="#5e5e5e"/><path d="M823.8 144.8 L842.5 148.5 L842.5 210.8 L823.8 203.8Z" fill="url(#rL)"/><path d="M842.5 148.5 L870.0 146.0 L870.0 206.3 L842.5 210.8Z" fill="url(#rF)"/><path d="M823.8 144.8 L842.5 148.5 L870.0 146.0 L850.0 141.8Z" fill="#b2656b"/><path d="M792.5 211.3 L810.0 217.5 L810.0 244.5 L792.5 236.3Z" fill="url(#gL)"/><path d="M810.0 217.5 L845.0 212.5 L845.0 238.8 L810.0 244.5Z" fill="url(#gF)"/><path d="M792.5 211.3 L810.0 217.5 L845.0 212.5 L823.8 205.0Z" fill="#727272"/><path d="M870.0 173.5 L891.0 178.5 L891.3 230.5 L871.0 222.5Z" fill="url(#rL)"/><path d="M891.0 178.5 L921.3 173.7 L921.3 223.8 L891.3 230.5Z" fill="url(#rF)"/><path d="M870.0 173.5 L891.0 178.5 L921.3 173.7 L898.0 168.0Z" fill="#b2656b"/><path d="M925.0 205.5 L948.8 211.3 L948.8 252.5 L925.0 243.8Z" fill="url(#rL)"/><path d="M948.8 211.3 L981.3 207.0 L981.3 245.0 L948.8 252.5Z" fill="url(#rF)"/><path d="M925.0 205.5 L948.8 211.3 L981.3 207.0 L956.3 199.5Z" fill="#b2656b"/><path d="M843.8 259.5 L866.3 268.8 L899.5 261.3 L877.0 254.5Z" fill="#777"/><path d="M714 215.5 L856.3 284.5 L1022.5 249" fill="none" stroke="#333" stroke-width="1.6" stroke-linejoin="round"/><path d="M714.0 215.5 l-2.5 3.2" stroke="#333" stroke-width="1.4"/><path d="M753.8 234.5 l-2.5 3.2" stroke="#333" stroke-width="1.4"/><path d="M801.3 258.0 l-2.5 3.2" stroke="#333" stroke-width="1.4"/><path d="M856.3 284.5 l-2.5 3.2" stroke="#333" stroke-width="1.4"/><path d="M945.0 265.8 l1 3.2" stroke="#333" stroke-width="1.4"/><path d="M1022.5 249.0 l1 3.2" stroke="#333" stroke-width="1.4"/><text x="771" y="138.5" font-size="17" font-family="Liberation Sans, sans-serif" font-weight="bold" fill="#fff" text-anchor="middle">11/13</text><text x="848" y="178" font-size="17" font-family="Liberation Sans, sans-serif" font-weight="bold" fill="#fff" text-anchor="middle">9/21</text><text x="817" y="235" font-size="17" font-family="Liberation Sans, sans-serif" font-weight="bold" fill="#fff" text-anchor="middle">2/13</text><text x="895" y="209.5" font-size="17" font-family="Liberation Sans, sans-serif" font-weight="bold" fill="#fff" text-anchor="middle">7/21</text><text x="954.5" y="236.3" font-size="17" font-family="Liberation Sans, sans-serif" font-weight="bold" fill="#fff" text-anchor="middle">5/21</text><text x="872.3" y="258.8" font-size="17" text-anchor="middle" font-family="Liberation Sans, sans-serif" font-weight="bold" fill="#3a3a3a">0/13</text><text x="883.5" y="125.3" font-size="21.5" font-family="Liberation Sans, sans-serif" font-weight="bold" fill="#111"><tspan font-style="italic">p</tspan>=0.039</text><text transform="translate(728.6 238.8) rotate(-29.5)" font-family="Liberation Sans, sans-serif" font-size="17.4" fill="#333" stroke="#333" stroke-width="0.35" text-anchor="end">Sinoatrial node</text><text transform="translate(786 259) rotate(-29)" font-family="Liberation Sans, sans-serif" font-size="17.4" fill="#333" stroke="#333" stroke-width="0.35" text-anchor="end">Subsidiary pacemaker</text><text transform="translate(829.6 283.7) rotate(-30)" font-family="Liberation Sans, sans-serif" font-size="17.4" fill="#333" stroke="#333" stroke-width="0.35" text-anchor="end">Inter-atrial septum</text><text x="887.3" y="299.2" font-size="18.5" font-family="Liberation Sans, sans-serif" font-weight="bold" fill="#333">WT</text><text transform="translate(931.3 290.2) rotate(-1.5)" font-size="18" font-style="italic" font-family="Liberation Sans, sans-serif" font-weight="bold" fill="#e0352f">Dnajb6<tspan font-size="15" dy="-8" dx="1.2" letter-spacing="-0.3">+/–</tspan></text>
<text x="33" y="375.9" font-size="34.5" font-family="Liberation Sans, sans-serif" font-weight="bold" fill="#2e2e2e">C</text><text x="144.5" y="375.8" font-size="22.5" font-family="Liberation Sans, sans-serif" font-weight="bold" fill="#333">WT</text><text x="34.6" y="421" font-size="15.4" font-family="Liberation Sans, sans-serif" font-weight="bold" fill="#333">OAP</text><path d="M66.9 441.3 L68.7 437.9 L69.8 443.0 L71.0 441.3 L71.6 444.2 L72.8 440.8 L73.5 441.5 L74.1 419.5 L74.6 382.5 L75.3 397.5 L76.1 412.5 L77.1 418.5 L77.8 431.5 L78.6 439.5 L79.7 446.5 L80.7 448.6 L81.6 443.5 L82.5 441.6 L83.5 446.0 L84.4 441.7 L85.4 444.0 L86.4 441.2 L87.7 442.8 L88.3 420.8 L88.8 386.5 L89.5 401.5 L90.3 416.5 L91.3 422.5 L92.0 435.5 L92.8 440.8 L93.9 447.8 L94.9 450.9 L95.8 444.8 L96.7 441.9 L97.7 447.3 L98.6 442.3 L99.6 445.3 L100.6 443.0 L101.4 444.1 L102.0 422.1 L102.5 387.5 L103.2 402.5 L104.0 417.5 L105.0 423.5 L105.7 436.5 L106.5 442.1 L107.6 449.1 L108.6 451.2 L109.5 446.1 L110.4 443.5 L111.4 448.6 L112.3 445.5 L113.3 446.6 L114.3 443.5 L115.2 445.1 L115.8 423.1 L116.3 387.0 L117.0 402.0 L117.8 417.0 L118.8 423.0 L119.5 436.0 L120.3 443.1 L121.4 450.1 L122.4 453.7 L123.3 447.1 L124.2 445.1 L125.2 449.6 L126.1 445.9 L127.1 447.6 L128.1 443.9 L128.9 446.0 L129.5 424.0 L130.0 387.0 L130.7 402.0 L131.5 417.0 L132.5 423.0 L133.2 436.0 L134.0 444.0 L135.1 451.0 L136.1 454.1 L137.0 448.0 L137.9 446.8 L138.9 450.5 L139.8 446.6 L140.8 448.5 L141.8 446.0 L143.2 446.6 L143.8 424.6 L144.3 387.0 L145.0 402.0 L145.8 417.0 L146.8 423.0 L147.5 436.0 L148.3 444.6 L149.4 451.6 L150.4 454.8 L151.3 448.6 L152.2 445.8 L153.2 451.1 L154.1 447.7 L155.1 449.1 L156.1 446.3 L157.2 447.0 L157.8 425.0 L158.3 387.5 L159.0 402.5 L159.8 417.5 L160.8 423.5 L161.5 436.5 L162.3 445.0 L163.4 452.0 L164.4 454.2 L165.3 449.0 L166.2 446.0 L167.2 451.5 L168.1 448.2 L169.1 449.5 L170.1 446.4 L170.9 447.0 L171.5 425.0 L172.0 388.0 L172.7 403.0 L173.5 418.0 L174.5 424.0 L175.2 437.0 L176.0 445.0 L177.1 452.0 L178.1 455.3 L179.0 449.0 L179.9 447.7 L180.9 451.5 L181.8 447.9 L182.8 449.5 L183.8 447.3 L184.4 446.6 L185.0 424.6 L185.5 386.0 L186.2 401.0 L187.0 416.0 L188.0 422.0 L188.7 435.0 L189.5 444.6 L190.6 451.6 L191.6 454.1 L192.5 448.6 L193.4 447.2 L194.4 451.1 L195.3 447.0 L196.3 449.1 L197.3 447.0 L198.4 446.0 L199.0 424.0 L199.5 387.0 L200.2 402.0 L201.0 417.0 L202.0 423.0 L202.7 436.0 L203.5 444.0 L204.6 451.0 L205.6 454.7 L206.5 448.0 L207.4 445.2 L208.4 450.5 L209.3 445.8 L210.3 448.5 L211.3 445.0 L212.2 445.1 L212.8 423.1 L213.3 387.0 L214.0 402.0 L214.8 417.0 L215.8 423.0 L216.5 436.0 L217.3 443.1 L218.4 450.1 L219.4 454.1 L220.3 447.1 L221.2 445.0 L222.2 449.6 L223.1 445.9 L224.1 447.6 L225.1 444.2 L225.9 444.1 L226.5 422.1 L227.0 387.0 L227.7 402.0 L228.5 417.0 L229.5 423.0 L230.2 436.0 L231.0 442.1 L232.1 449.1 L233.1 451.8 L234.0 446.1 L234.9 443.8 L235.9 448.6 L236.8 444.3 L237.8 446.6 L238.8 443.7 L239.9 442.8 L240.5 420.8 L241.0 386.0 L241.7 401.0 L242.5 416.0 L243.5 422.0 L244.2 435.0 L245.0 440.8 L246.1 447.8 L247.1 450.8 L248.0 444.8 L248.9 443.6 L249.9 447.3 L250.8 443.7 L251.8 445.3 L252.8 443.2 L253.9 441.5 L254.5 419.5 L255.0 386.5 L255.7 401.5 L256.5 416.5 L257.5 422.5 L258.2 435.5 L259.0 439.5 L258.9 432.5 L259.6 438.5 L260.4 444.5" fill="none" stroke="#262626" stroke-width="1.6" stroke-linejoin="round"/><rect x="70" y="459.8" width="46.3" height="2.2" fill="#333"/><text x="68" y="479" font-size="15.2" font-family="Liberation Sans, sans-serif" font-weight="bold" fill="#333">500 ms</text><text x="80.8" y="524.8" font-size="18.9" font-family="Liberation Sans, sans-serif" font-weight="bold" fill="#333">SAN activation</text><text x="320.5" y="375.4" font-size="34.5" font-family="Liberation Sans, sans-serif" font-weight="bold" fill="#2e2e2e">D</text><text x="400" y="375" font-size="21.8" font-style="italic" font-family="Liberation Sans, sans-serif" font-weight="bold" fill="#e0352f">Dnajb6<tspan font-size="15.5" dy="-9.8" dx="1.5" letter-spacing="-0.3">+/–</tspan></text><text x="322.6" y="427" font-size="15.4" font-family="Liberation Sans, sans-serif" font-weight="bold" fill="#333">OAP</text><path d="M353.0 449.4 L354.0 446.0 L354.9 445.1 L355.8 447.5 L356.6 446.5 L357.4 450.8 L358.1 452.4 L358.9 451.7 L359.6 450.3 L360.3 451.1 L361.2 449.7 L361.8 448.9 L362.7 450.6 L363.2 452.5 L364.1 452.2 L364.9 450.5 L365.4 450.5 L365.9 431.0 L366.4 393.5 L366.9 391.5 L367.3 394.5 L368.0 387.5 L368.3 386.5 L368.8 390.5 L369.2 396.5 L369.8 429.0 L370.2 436.0 L370.7 440.6 L371.3 442.1 L371.9 443.4 L372.6 445.4 L373.5 447.1 L374.2 448.1 L375.0 448.8 L375.7 451.0 L376.6 451.8 L377.4 450.5 L378.0 449.8 L378.6 451.1 L379.3 452.1 L379.9 453.0 L380.8 450.2 L381.4 452.0 L382.1 453.1 L382.8 450.5 L383.6 451.7 L384.2 449.9 L384.9 452.0 L385.7 450.2 L386.4 450.2 L386.9 431.0 L387.4 399.0 L387.9 397.0 L388.3 400.0 L389.0 393.0 L389.3 392.0 L389.8 396.0 L390.2 402.0 L390.8 429.0 L391.2 436.0 L391.7 439.8 L392.3 442.8 L392.9 444.6 L393.6 445.6 L394.4 446.5 L395.2 446.1 L395.9 446.9 L396.5 450.0 L397.3 449.4 L398.2 449.0 L398.9 451.0 L399.7 449.5 L400.6 449.2 L401.2 450.9 L401.9 450.2 L402.4 449.1 L403.2 449.2 L404.0 449.6 L404.7 451.8 L405.4 451.7 L406.1 451.7 L406.6 431.0 L407.1 392.3 L407.6 390.3 L408.0 393.3 L408.7 386.3 L409.0 385.3 L409.5 389.3 L409.9 395.3 L410.5 429.0 L410.9 436.0 L411.4 440.3 L412.0 443.3 L412.8 444.9 L413.5 446.6 L414.3 447.3 L415.2 449.6 L416.0 449.4 L416.6 448.1 L417.5 448.4 L418.2 448.6 L419.1 450.0 L419.7 449.2 L420.5 448.6 L421.2 449.9 L422.0 450.8 L422.7 452.3 L423.3 449.9 L423.9 450.3 L424.6 450.3 L425.1 431.0 L425.6 389.8 L426.1 387.8 L426.5 390.8 L427.2 383.8 L427.5 382.8 L428.0 386.8 L428.4 392.8 L429.0 429.0 L429.4 436.0 L429.9 440.0 L430.6 442.8 L431.2 444.3 L432.0 447.1 L432.8 448.3 L433.6 447.9 L434.1 447.0 L435.0 449.3 L435.9 448.2 L436.7 449.3 L437.5 449.4 L438.4 448.6 L439.1 450.5 L440.0 451.5 L440.8 452.2 L441.6 451.1 L442.4 452.4 L443.3 451.4 L444.1 452.4 L444.9 452.1 L445.5 451.8 L446.3 450.0 L447.1 452.2 L447.9 452.4 L448.6 452.5 L449.4 451.5 L449.6 451.5 L450.1 431.0 L450.6 395.8 L451.1 393.8 L451.5 396.8 L452.2 389.8 L452.5 388.8 L453.0 392.8 L453.4 398.8 L454.0 429.0 L454.4 436.0 L454.9 440.1 L455.7 442.4 L456.5 444.8 L457.1 446.6 L457.8 447.9 L458.7 448.0 L459.3 448.1 L460.0 448.1 L460.7 450.5 L461.4 450.3 L462.3 449.9 L463.1 449.3 L463.8 451.1 L464.6 452.2 L465.3 451.8 L466.0 450.1 L466.7 451.7 L467.6 452.0 L468.4 450.7 L469.1 450.7 L469.7 449.9 L470.1 449.9 L470.6 431.0 L471.1 397.0 L471.6 395.0 L472.0 398.0 L472.7 391.0 L473.0 390.0 L473.5 394.0 L473.9 400.0 L474.5 429.0 L474.9 436.0 L475.4 440.6 L476.1 442.8 L477.0 446.0 L477.7 446.3 L478.2 448.0 L478.8 449.4 L479.6 448.8 L480.4 447.8 L481.0 448.8 L481.5 450.7 L482.2 449.3 L482.7 450.4 L483.4 451.0 L484.2 451.9 L485.1 452.0 L485.7 451.4 L486.3 449.5 L487.1 450.9 L487.7 450.2 L488.3 451.2 L489.1 451.5 L489.9 450.9 L490.7 452.3 L491.3 453.1 L491.6 453.1 L492.1 431.0 L492.6 396.5 L493.1 394.5 L493.5 397.5 L494.2 390.5 L494.5 389.5 L495.0 393.5 L495.4 399.5 L496.0 429.0 L496.4 436.0 L496.9 440.6 L497.6 443.3 L498.5 445.3 L499.2 447.4 L500.1 449.0 L500.8 450.2 L501.4 450.7 L502.2 450.9 L503.0 449.7 L503.9 451.8 L504.8 451.4 L505.6 450.5 L506.5 451.9 L507.2 449.9 L507.9 450.6 L508.7 450.7 L509.2 451.9 L509.8 452.4 L510.4 451.1 L511.2 449.8 L511.8 450.5 L512.6 450.5 L513.1 431.0 L513.6 385.8 L514.1 383.8 L514.5 386.8 L515.2 379.8 L515.5 378.8 L516.0 382.8 L516.4 388.8 L517.0 429.0 L517.4 436.0 L517.9 438.7 L518.7 439.9 L519.4 440.1 L520.0 438.6 L520.7 439.2 L521.5 440.6 L522.3 442.3 L523.0 441.5 L523.7 443.1 L524.6 441.8 L525.4 443.8 L526.1 443.5 L526.8 443.3 L527.5 443.4 L528.0 444.7 L528.8 443.5 L529.6 443.4 L530.3 443.8 L530.9 443.5 L531.4 443.5 L531.9 423.0 L532.4 387.0 L532.9 385.0 L533.3 388.0 L534.0 381.0 L534.3 380.0 L534.8 384.0 L535.2 390.0 L535.8 421.0 L536.2 428.0 L536.7 433.6 L537.6 435.7 L538.3 436.8 L539.0 439.0 L539.9 440.0 L540.5 439.7 L541.3 442.2 L541.9 443.0 L542.4 441.5 L543.1 442.6 L543.7 442.1 L544.5 441.0 L545.3 440.6 L546.0 440.9 L546.6 441.9 L547.4 442.0 L548.0 442.6 L548.7 441.7 L549.4 442.8 L549.6 442.8 L550.1 425.0 L550.6 389.5 L551.1 387.5 L551.5 390.5 L552.2 383.5 L552.5 382.5 L553.0 386.5 L553.4 392.5 L554.0 423.0 L554.4 430.0 L554.9 437.2 L555.7 440.7 L556.3 442.9 L557.1 445.4 L557.8 446.1 L558.7 446.8 L559.6 449.9 L560.2 451.7 L561.0 451.5 L561.5 453.3 L562.2 454.2 L562.8 453.3 L563.6 451.7 L564.2 453.1 L565.1 454.8 L565.7 454.1 L566.5 453.8 L567.3 452.6 L567.9 451.7 L568.5 452.7 L569.2 453.3 L569.8 452.3 L570.4 454.1 L571.3 455.2 L571.9 452.9 L572.8 453.1 L573.6 452.7 L574.3 453.1 L575.0 453.7 L575.6 454.3 L575.9 454.3 L576.4 433.5 L576.9 397.0 L577.4 395.0 L577.8 398.0 L578.5 391.0 L578.8 390.0 L579.3 394.0 L579.7 400.0 L580.3 431.5 L580.7 438.5 L581.2 442.8 L581.9 445.9 L582.6 447.1 L583.2 448.6 L583.8 450.2 L584.6 452.0 L585.4 452.6 L586.1 452.8 L586.9 454.4 L587.7 452.9 L588.6 453.8 L589.4 454.6 L590.1 455.3 L590.9 455.0 L591.8 455.1 L592.4 455.0 L593.0 453.7 L593.7 451.9 L594.4 453.1 L595.2 452.4 L596.1 453.5 L596.6 453.5 L597.1 433.5 L597.6 395.8 L598.1 393.8 L598.5 396.8 L599.2 389.8 L599.5 388.8 L600.0 392.8 L600.4 398.8 L601.1 439.5 L601.5 444.5 L601.7 444.5 L602.2 433.5 L602.7 397.0 L603.2 395.0 L603.6 398.0 L604.3 391.0 L604.6 390.0 L605.1 394.0 L605.5 400.0 L606.1 431.5 L606.5 438.5 L607.0 443.5 L607.7 446.0 L608.4 448.5 L609.2 449.9 L610.0 451.5 L610.6 452.5 L611.4 451.6 L612.1 450.5 L612.7 451.2 L613.3 451.1 L614.2 452.3 L614.9 454.3 L615.6 455.5 L616.4 455.4 L617.0 454.7 L617.8 452.5 L618.7 451.8 L619.4 451.5 L620.1 452.9 L620.7 454.7 L621.4 454.2 L622.1 453.4 L622.8 454.0 L623.5 453.0 L624.3 452.5 L624.9 452.2 L625.5 451.7 L626.3 452.2 L627.1 453.7 L627.7 455.3 L628.6 452.9 L629.4 453.0 L630.2 454.8 L630.4 454.8 L630.9 433.5 L631.4 394.5 L631.9 392.5 L632.3 395.5 L633.0 388.5 L633.3 387.5 L633.8 391.5 L634.2 397.5 L634.8 431.5 L635.2 438.5 L635.7 443.6 L636.6 446.7 L637.3 449.0 L638.1 450.2 L638.7 450.8 L639.4 450.6 L640.0 451.4 L640.6 451.7 L641.4 452.1 L642.0 452.7 L642.7 453.8 L643.4 455.2 L644.3 455.0 L645.0 452.8 L645.8 454.1 L646.6 453.3 L647.2 454.0 L648.0 454.0 L648.8 454.6 L649.4 453.2 L650.3 454.7 L651.1 452.5 L651.6 452.5 L652.1 433.5 L652.6 394.5 L653.1 392.5 L653.5 395.5 L654.2 388.5 L654.5 387.5 L655.0 391.5 L655.4 397.5 L656.0 431.5 L656.4 438.5 L656.9 442.6 L657.6 445.5 L658.2 447.2 L658.8 447.8 L659.5 449.5 L660.3 450.0 L661.0 450.1 L661.7 452.0 L662.5 451.0 L663.1 452.9 L663.9 453.9 L664.5 453.2 L665.2 454.3 L665.9 454.3 L666.7 453.2 L667.5 454.1 L668.4 453.5 L669.0 452.1 L669.9 451.4 L670.1 451.4 L670.6 433.5 L671.1 392.0 L671.6 390.0 L672.0 393.0 L672.7 386.0 L673.0 385.0 L673.5 389.0 L673.9 395.0 L674.5 431.5 L674.9 438.5 L675.4 442.8 L676.1 445.8 L676.8 447.9 L677.4 448.4 L678.1 449.1 L678.8 450.6 L679.6 450.7 L680.2 451.0 L681.0 451.4 L681.6 452.8 L682.3 454.3 L683.2 455.2 L683.9 455.2 L684.6 453.6 L685.3 455.0 L686.1 453.3 L686.8 452.9 L687.5 452.8 L688.2 452.1 L688.9 453.8 L689.6 454.8 L690.4 453.0 L691.2 454.6 L691.9 452.4 L692.6 453.1 L693.3 454.9 L694.1 455.2 L694.7 454.5 L695.1 454.5 L695.6 433.5 L696.1 392.0 L696.6 390.0 L697.0 393.0 L697.7 386.0 L698.0 385.0 L698.5 389.0 L698.9 395.0 L699.5 431.5 L699.9 438.5 L700.4 439.7 L701.0 441.6 L701.8 442.0 L702.6 442.2 L703.4 443.6 L704.1 443.3 L704.9 444.7 L705.7 445.0 L706.4 447.2 L707.2 446.9 L707.9 447.5 L708.7 448.5 L709.4 448.8 L710.2 449.0 L711.0 449.1 L711.9 449.6 L712.6 448.6 L713.4 449.2 L714.1 448.4 L714.7 449.2 L715.6 448.6 L716.2 447.7 L716.6 447.7 L717.1 430.0 L717.6 388.0 L718.1 386.0 L718.5 389.0 L719.2 382.0 L719.5 381.0 L720.0 385.0 L720.4 391.0 L721.0 428.0 L721.4 435.0 L721.9 440.1 L722.8 440.3 L723.4 439.8 L724.2 440.0 L724.8 438.4 L725.5 438.9 L726.4 438.3 L727.0 438.6 L727.6 439.0 L728.4 440.5 L729.1 440.0 L729.7 439.7 L730.5 440.1 L731.3 442.0 L732.0 441.1 L732.8 442.9 L733.5 442.6 L734.4 442.2 L735.0 440.5 L735.9 442.3 L736.6 442.2 L737.3 441.3 L737.6 441.3 L738.1 422.0 L738.6 384.5 L739.1 382.5 L739.5 385.5 L740.2 378.5 L740.5 377.5 L741.0 381.5 L741.4 387.5 L742.0 420.0 L742.4 427.0 L742.9 432.6 L743.5 434.5 L744.2 437.3 L745.1 440.4 L745.8 441.6 L746.4 442.2 L747.1 445.2 L747.8 446.5 L748.7 446.5 L749.5 446.5 L750.3 446.5 L751.1 449.7 L751.9 449.2 L752.6 450.8 L753.2 450.7 L753.9 452.4 L754.6 452.9 L755.3 452.9 L756.0 453.3 L756.6 453.3 L757.1 431.0 L757.6 390.8 L758.1 388.8 L758.5 391.8 L759.2 384.8 L759.5 383.8 L760.0 387.8 L760.4 393.8 L761.0 429.0 L761.4 436.0 L761.9 443.3 L762.5 445.0 L763.3 446.1 L764.1 447.6 L764.8 448.1 L765.4 448.8 L766.2 449.5 L767.0 449.2 L767.7 450.3 L768.6 452.3 L769.4 450.6 L770.0 452.1 L770.7 452.4 L771.4 450.7 L772.3 452.6 L772.9 452.9 L773.6 452.2 L774.3 451.6 L775.0 451.7 L775.7 451.2 L776.1 451.2 L776.6 432.5 L777.1 390.0 L777.6 388.0 L778.0 391.0 L778.7 384.0 L779.0 383.0 L779.5 387.0 L779.9 393.0 L780.5 430.5 L780.9 437.5 L781.4 442.3 L782.1 445.3 L782.8 447.3 L783.5 448.8 L784.1 448.7 L784.6 450.0 L785.4 449.5 L786.1 451.5 L786.9 450.2 L787.5 449.8 L788.1 450.6 L788.7 452.7 L789.4 452.5 L790.2 453.3 L791.0 452.4 L791.7 452.1 L792.2 451.9 L793.0 453.8 L793.8 453.7 L794.6 451.4 L795.3 451.4 L796.1 450.6 L796.7 451.6 L797.6 453.1 L798.3 451.7 L799.1 453.4 L799.9 452.5 L800.6 451.3 L801.4 453.5 L801.6 453.5 L802.1 432.5 L802.6 397.0 L803.1 395.0 L803.5 398.0 L804.2 391.0 L804.5 390.0 L805.0 394.0 L805.4 400.0 L806.0 430.5 L806.4 437.5 L806.9 442.8 L807.7 444.8 L808.6 447.3 L809.2 447.7 L809.9 449.0 L810.7 449.3 L811.5 449.9 L812.3 449.5 L813.1 449.5 L814.0 450.9 L814.8 451.8 L815.4 453.4 L816.3 453.9 L817.1 451.9 L817.9 451.4 L818.8 451.0 L819.5 452.9 L820.1 452.8 L820.7 451.1 L821.3 453.4 L822.2 453.5 L822.6 453.5 L823.1 432.5 L823.6 395.8 L824.1 393.8 L824.5 396.8 L825.2 389.8 L825.5 388.8 L826.0 392.8 L826.4 398.8 L827.0 430.5 L827.4 437.5 L827.9 442.7 L828.7 445.0 L829.5 447.4 L830.0 447.7 L830.7 448.3 L831.4 449.3 L832.0 450.2 L832.7 451.0 L833.3 451.8 L833.9 452.3 L834.5 453.7 L835.3 452.8 L836.0 452.9 L836.7 453.5 L837.6 452.9 L838.5 453.8 L839.3 452.8 L840.0 452.8 L840.9 452.7 L841.6 452.4 L842.5 451.8 L843.0 452.9 L843.4 452.9 L843.9 432.5 L844.4 393.3 L844.9 391.3 L845.3 394.3 L846.0 387.3 L846.3 386.3 L846.8 390.3 L847.2 396.3 L847.9 438.5 L848.3 443.5 L848.0 443.5 L848.5 432.5 L849.0 397.0 L849.5 395.0 L849.9 398.0 L850.6 391.0 L850.9 390.0 L851.4 394.0 L851.8 400.0 L852.4 430.5 L852.8 437.5 L853.3 442.7 L854.1 445.5 L854.7 447.0 L855.3 447.3 L856.0 448.7 L856.7 448.0 L857.5 449.7 L858.1 449.8 L858.8 449.8 L859.4 452.2 L860.3 452.7 L861.1 452.2 L861.9 451.3 L862.8 452.0 L863.6 450.8 L864.5 450.3 L865.2 452.9 L865.7 451.8 L866.4 451.5 L867.0 453.3 L867.8 452.6 L868.5 452.8 L869.0 451.1 L869.9 451.1 L870.6 453.3 L871.5 452.8 L872.1 451.9 L873.0 453.6 L873.6 454.2 L874.3 453.2 L874.9 454.2 L875.8 452.3 L876.6 452.3 L877.1 432.5 L877.6 381.5 L878.1 379.5 L878.5 382.5 L879.2 375.5 L879.5 374.5 L880.0 378.5 L880.4 384.5 L881.0 430.5 L881.4 437.5 L881.9 441.6 L882.8 444.0 L883.3 446.4 L884.0 448.5 L884.9 449.9 L885.5 451.2 L886.3 451.1 L886.9 450.3 L887.6 451.7 L888.2 450.7 L888.8 451.9 L889.6 451.6 L890.4 453.2 L891.2 451.8 L891.8 453.5 L892.6 452.2 L893.4 450.9 L894.3 451.5 L895.0 452.1 L895.4 452.1 L895.9 432.5 L896.4 384.5 L896.9 382.5 L897.3 385.5 L898.0 378.5 L898.3 377.5 L898.8 381.5 L899.2 387.5 L899.8 430.5 L900.2 437.5 L900.7 442.3 L901.3 444.1 L902.2 445.8 L902.8 447.9 L903.5 448.6 L904.2 448.4 L905.1 451.5 L905.6 451.3 L906.4 451.1 L907.3 451.6 L907.9 452.0 L908.7 451.6 L909.5 452.9 L910.2 452.6 L911.1 453.1 L911.8 454.3 L912.4 454.3 L913.0 453.7 L913.7 452.9 L914.5 453.7 L915.1 453.7 L915.6 432.5 L916.1 383.3 L916.6 381.3 L917.0 384.3 L917.7 377.3 L918.0 376.3 L918.5 380.3 L918.9 386.3 L919.5 430.5 L919.9 437.5 L920.4 442.0 L921.1 444.1 L921.9 446.4 L922.4 447.8 L923.2 449.2 L924.1 449.1 L924.7 448.4 L925.4 449.7 L926.1 449.9 L927.0 449.5 L927.8 451.1 L928.6 452.6 L929.2 451.2 L929.9 450.2 L930.5 451.7 L931.2 451.2 L932.0 450.4 L932.8 450.3 L933.5 450.2 L934.3 452.5 L935.1 451.0 L935.8 451.3 L936.4 453.5 L937.0 452.9 L937.8 454.4 L938.4 453.3 L939.2 451.3 L939.6 451.3 L940.1 432.5 L940.6 388.3 L941.1 386.3 L941.5 389.3 L942.2 382.3 L942.5 381.3 L943.0 385.3 L943.4 391.3 L944.0 430.5 L944.4 437.5 L944.9 442.6 L945.5 444.3 L946.2 446.0 L946.7 446.5 L947.6 448.9 L948.4 449.0 L949.1 450.2 L949.7 450.6 L950.6 450.7 L951.3 452.9 L952.0 450.9 L952.7 452.0 L953.3 451.6 L954.1 453.2 L954.8 454.1 L955.5 452.9 L956.4 452.2 L957.2 451.4 L957.9 450.8 L958.6 450.5 L959.2 450.5 L960.0 450.8 L960.7 453.3 L960.9 453.3 L961.4 432.5 L961.9 387.0 L962.4 385.0 L962.8 388.0 L963.5 381.0 L963.8 380.0 L964.3 384.0 L964.7 390.0 L965.3 430.5 L965.7 437.5 L966.2 443.0 L966.8 444.6 L967.4 446.4 L968.1 447.3 L968.6 447.8 L969.3 448.8 L970.1 450.5 L970.8 450.4 L971.4 452.4 L972.1 453.0 L972.9 453.9 L973.4 452.3 L974.1 450.8 L975.0 451.0 L975.8 451.7 L976.4 451.7 L977.0 450.5 L977.6 451.8 L978.2 451.5 L978.9 452.1 L979.5 453.0 L980.1 453.5 L980.9 451.8 L981.5 451.4 L982.1 451.4 L982.6 432.5 L983.1 388.3 L983.6 386.3 L984.0 389.3 L984.7 382.3 L985.0 381.3 L985.5 385.3 L985.9 391.3 L986.5 430.5 L986.9 437.5 L987.4 441.8 L988.1 445.0 L988.7 446.1 L989.4 447.1 L989.9 447.5 L990.7 448.8 L991.6 451.6 L992.2 452.0 L993.1 451.0 L993.9 452.0 L994.8 453.3 L995.4 453.2 L996.0 452.5 L996.7 450.9 L997.3 451.0 L998.1 451.0 L998.7 451.3 L999.4 450.8 L1000.2 450.7 L1000.8 451.0 L1001.4 450.6 L1002.2 452.2 L1002.9 453.0 L1003.4 453.0 L1003.9 432.5 L1004.4 393.3 L1004.9 391.3 L1005.3 394.3 L1006.0 387.3 L1006.3 386.3 L1006.8 390.3 L1007.2 396.3 L1007.8 430.5 L1008.2 437.5 L1008.7 442.1 L1009.4 443.8 L1010.1 445.3 L1010.8 447.5 L1011.5 448.5 L1012.1 447.6 L1012.8 450.7 L1013.6 450.2 L1014.3 449.9 L1015.1 451.3 L1015.9 451.2 L1016.7 453.2 L1017.5 453.2 L1018.3 452.5 L1019.0 451.6 L1019.8 453.3 L1020.5 454.3 L1021.1 452.1 L1021.8 451.6 L1022.5 453.7 L1023.1 452.0 L1023.4 452.0 L1023.9 432.5 L1024.4 390.8 L1024.9 388.8 L1025.3 391.8 L1026.0 384.8 L1026.3 383.8 L1026.8 387.8 L1027.2 393.8 L1027.8 430.5 L1028.2 437.5 L1028.7 442.4 L1029.3 443.7 L1030.1 445.9 L1030.7 447.4 L1031.5 448.9 L1032.3 450.0 L1033.1 452.3 L1033.8 451.3 L1034.6 451.0 L1035.4 452.1 L1036.2 453.7" fill="none" stroke="#262626" stroke-width="1.6" stroke-linejoin="round"/><rect x="369.5" y="461.3" width="38.5" height="2.2" fill="#333"/><text x="364" y="479.6" font-size="15.2" font-family="Liberation Sans, sans-serif" font-weight="bold" fill="#333">500 ms</text><rect x="626.3" y="382" width="19.5" height="90.5" fill="none" stroke="#8a1f98" stroke-width="1.8"/><rect x="625.6" y="467" width="20.9" height="6.3" fill="#8a1f98"/><rect x="648.3" y="382" width="19.7" height="90.5" fill="none" stroke="#e8232a" stroke-width="1.8"/><rect x="647.6" y="467" width="21.1" height="6.3" fill="#e8232a"/><rect x="670.0" y="382" width="19.5" height="90.5" fill="none" stroke="#20e6f0" stroke-width="1.8"/><rect x="669.3" y="467" width="20.9" height="6.3" fill="#20e6f0"/><path d="M626.3 472.8 L496.1 502.8" stroke="#8a1f98" stroke-width="1.5"/><path d="M488.8 504.5 L495.9 499.6 L497.3 505.8 Z" fill="#8a1f98"/><path d="M658.0 473.0 L658.0 498.5" stroke="#e8232a" stroke-width="1.5"/><path d="M658.0 506.0 L654.8 498.0 L661.2 498.0 Z" fill="#e8232a"/><path d="M689.5 472.8 L885.1 503.3" stroke="#20e6f0" stroke-width="1.5"/><path d="M892.5 504.5 L884.1 506.4 L885.1 500.1 Z" fill="#20e6f0"/><text x="357.5" y="524.9" font-size="18.9" font-family="Liberation Sans, sans-serif" font-weight="bold" fill="#8a0f95" textLength="167" lengthAdjust="spacingAndGlyphs">A1: SAN activation</text><text x="571.3" y="524.9" font-size="18.9" font-family="Liberation Sans, sans-serif" font-weight="bold" fill="#e8141c" textLength="220" lengthAdjust="spacingAndGlyphs">A2: SAN + IAS activation</text><text x="842.5" y="524.9" font-size="18.9" font-family="Liberation Sans, sans-serif" font-weight="bold" fill="#22e2ee" textLength="159.5" lengthAdjust="spacingAndGlyphs">A3: IAS activation</text>
<g clip-path="url(#clipC)"><g filter="url(#jet)"><rect x="30" y="516" width="221" height="196" fill="rgb(119,119,119)"/><path d="M55.0 600.0 C55.0 592.8 63.3 581.3 70.0 575.0 C76.7 568.7 87.2 565.3 95.0 562.0 C102.8 558.7 110.0 557.0 117.0 555.0 C124.0 553.0 132.0 551.7 137.0 550.0 C142.0 548.3 144.0 546.7 147.0 545.0 C150.0 543.3 150.3 540.0 155.0 540.0 C159.7 540.0 169.2 540.8 175.0 545.0 C180.8 549.2 186.2 557.5 190.0 565.0 C193.8 572.5 197.7 581.7 198.0 590.0 C198.3 598.3 195.3 608.7 192.0 615.0 C188.7 621.3 182.5 626.8 178.0 628.0 C173.5 629.2 169.3 625.8 165.0 622.0 C160.7 618.2 156.2 606.2 152.0 605.0 C147.8 603.8 145.3 610.8 140.0 615.0 C134.7 619.2 127.5 627.8 120.0 630.0 C112.5 632.2 103.3 630.0 95.0 628.0 C86.7 626.0 76.7 622.7 70.0 618.0 C63.3 613.3 55.0 607.2 55.0 600.0Z" fill="rgb(94,94,94)"/><path d="M180.0 558.0 C182.8 553.2 190.7 566.5 195.0 571.0 C199.3 575.5 204.2 580.0 206.0 585.0 C207.8 590.0 207.7 596.3 206.0 601.0 C204.3 605.7 199.3 611.0 196.0 613.0 C192.7 615.0 189.0 615.2 186.0 613.0 C183.0 610.8 179.0 609.2 178.0 600.0 C177.0 590.8 177.2 562.8 180.0 558.0Z" fill="rgb(97,97,97)"/><path d="M85.0 585.0 C85.3 578.0 94.2 574.2 100.0 570.0 C105.8 565.8 113.3 562.8 120.0 560.0 C126.7 557.2 135.0 555.5 140.0 553.0 C145.0 550.5 145.8 546.5 150.0 545.0 C154.2 543.5 160.0 541.5 165.0 544.0 C170.0 546.5 176.5 553.2 180.0 560.0 C183.5 566.8 186.0 576.7 186.0 585.0 C186.0 593.3 183.0 604.5 180.0 610.0 C177.0 615.5 171.7 620.0 168.0 618.0 C164.3 616.0 161.0 602.3 158.0 598.0 C155.0 593.7 153.3 590.3 150.0 592.0 C146.7 593.7 143.8 603.7 138.0 608.0 C132.2 612.3 121.7 617.3 115.0 618.0 C108.3 618.7 103.0 617.5 98.0 612.0 C93.0 606.5 84.7 592.0 85.0 585.0Z" fill="rgb(71,71,71)"/><path d="M100.0 583.0 C102.8 577.5 113.3 571.2 120.0 567.0 C126.7 562.8 135.0 561.2 140.0 558.0 C145.0 554.8 146.3 550.2 150.0 548.0 C153.7 545.8 158.2 543.3 162.0 545.0 C165.8 546.7 170.3 552.2 173.0 558.0 C175.7 563.8 178.2 572.3 178.0 580.0 C177.8 587.7 174.0 599.3 172.0 604.0 C170.0 608.7 168.3 610.3 166.0 608.0 C163.7 605.7 160.7 593.8 158.0 590.0 C155.3 586.2 153.8 583.3 150.0 585.0 C146.2 586.7 140.8 596.0 135.0 600.0 C129.2 604.0 120.3 609.0 115.0 609.0 C109.7 609.0 105.5 604.3 103.0 600.0 C100.5 595.7 97.2 588.5 100.0 583.0Z" fill="rgb(36,36,36)"/><path d="M116.0 590.0 C116.3 587.2 122.0 583.5 126.0 580.0 C130.0 576.5 136.0 573.3 140.0 569.0 C144.0 564.7 147.0 557.3 150.0 554.0 C153.0 550.7 155.5 548.3 158.0 549.0 C160.5 549.7 164.7 553.8 165.0 558.0 C165.3 562.2 162.5 570.5 160.0 574.0 C157.5 577.5 153.7 576.5 150.0 579.0 C146.3 581.5 142.3 586.0 138.0 589.0 C133.7 592.0 127.7 596.8 124.0 597.0 C120.3 597.2 115.7 592.8 116.0 590.0Z" fill="rgb(0,0,0)"/><path d="M50.0 644.0 C58.3 634.3 85.0 643.2 100.0 642.0 C115.0 640.8 128.7 636.5 140.0 637.0 C151.3 637.5 160.5 642.0 168.0 645.0 C175.5 648.0 179.7 645.8 185.0 655.0 C190.3 664.2 222.5 692.5 200.0 700.0 C177.5 707.5 75.0 709.3 50.0 700.0 C25.0 690.7 41.7 653.7 50.0 644.0Z" fill="rgb(138,138,138)"/><path d="M60.0 666.0 C67.5 659.7 91.7 663.0 105.0 662.0 C118.3 661.0 129.2 658.7 140.0 660.0 C150.8 661.3 161.7 667.7 170.0 670.0 C178.3 672.3 185.0 669.0 190.0 674.0 C195.0 679.0 221.7 695.7 200.0 700.0 C178.3 704.3 83.3 705.7 60.0 700.0 C36.7 694.3 52.5 672.3 60.0 666.0Z" fill="rgb(157,157,157)"/><path d="M118.0 682.0 C122.7 678.3 133.0 677.8 140.0 678.0 C147.0 678.2 155.8 679.3 160.0 683.0 C164.2 686.7 173.0 697.2 165.0 700.0 C157.0 702.8 119.8 703.0 112.0 700.0 C104.2 697.0 113.3 685.7 118.0 682.0Z" fill="rgb(189,189,189)"/><path d="M196.0 574.0 C192.3 577.0 212.7 581.2 218.0 588.0 C223.3 594.8 230.2 611.3 228.0 615.0 C225.8 618.7 210.3 612.5 205.0 610.0 C199.7 607.5 198.8 599.7 196.0 600.0 C193.2 600.3 190.3 605.3 188.0 612.0 C185.7 618.7 182.3 630.0 182.0 640.0 C181.7 650.0 177.2 663.7 186.0 672.0 C194.8 680.3 226.0 707.0 235.0 690.0 C244.0 673.0 246.5 589.3 240.0 570.0 C233.5 550.7 199.7 571.0 196.0 574.0Z" fill="rgb(158,158,158)"/><path d="M187.0 617.0 C189.3 611.8 195.2 609.8 200.0 609.0 C204.8 608.2 211.3 610.2 216.0 612.0 C220.7 613.8 226.0 612.0 228.0 620.0 C230.0 628.0 231.0 652.3 228.0 660.0 C225.0 667.7 215.5 667.0 210.0 666.0 C204.5 665.0 199.0 658.3 195.0 654.0 C191.0 649.7 187.3 646.2 186.0 640.0 C184.7 633.8 184.7 622.2 187.0 617.0Z" fill="rgb(224,224,224)"/><path d="M211.0 614.0 C214.0 612.7 223.5 612.7 226.0 616.0 C228.5 619.3 228.0 631.0 226.0 634.0 C224.0 637.0 217.0 635.7 214.0 634.0 C211.0 632.3 208.5 627.3 208.0 624.0 C207.5 620.7 208.0 615.3 211.0 614.0Z" fill="rgb(255,255,255)"/><circle cx="181.0" cy="558.0" r="5.5" fill="rgb(242,242,242)"/><circle cx="204.0" cy="664.0" r="7.0" fill="rgb(189,189,189)"/></g></g><circle cx="203.8" cy="658.8" r="3" fill="#fff"/><circle cx="202.5" cy="658.8" r="10.5" fill="none" stroke="#1a1a1a" stroke-width="1.7" stroke-dasharray="3 2.2"/><path d="M168.8 541.3 C169.3 543.4 170.1 549.6 172.0 554.0 C173.9 558.4 177.0 563.6 180.0 567.5 C183.0 571.4 186.7 574.8 190.0 577.5 C193.3 580.2 197.0 582.4 200.0 583.5 C203.0 584.6 205.5 584.4 208.0 584.0 C210.5 583.6 213.8 581.8 215.0 581.3" fill="none" stroke="#111" stroke-width="1.9" stroke-dasharray="3.4 2.2"/><path d="M157.5 565.0 Q134.1 603.4 94.4 614.1" fill="none" stroke="#2e2e2e" stroke-width="2.1"/><path d="M86.3 616.3 L95.2 608.9 L97.7 618.2 Z" fill="#2e2e2e"/><path d="M162.5 565.0 Q175.8 607.2 166.0 644.4" fill="none" stroke="#2e2e2e" stroke-width="2.1"/><path d="M163.8 652.5 L161.9 641.1 L171.1 643.6 Z" fill="#2e2e2e"/><path d="M160.0 555.0 L160.0 566.0" stroke="#fff" stroke-width="1.9" stroke-linecap="butt"/><path d="M155.2 557.8 L164.8 563.2" stroke="#fff" stroke-width="1.9" stroke-linecap="butt"/><path d="M164.8 557.8 L155.2 563.2" stroke="#fff" stroke-width="1.9" stroke-linecap="butt"/><text x="179" y="552.8" font-family="Liberation Sans, sans-serif" font-weight="bold" fill="#333" font-size="17">SVC</text><text x="66.3" y="633.8" font-size="16.5" font-family="Liberation Sans, sans-serif" font-weight="bold" fill="#333">RAA</text><text x="166.3" y="679.3" font-size="16" font-family="Liberation Sans, sans-serif" font-weight="bold" fill="#333">IVC</text><rect x="237.7" y="560" width="16" height="115.5" fill="url(#cbar)"/><text x="225.8" y="557.3" font-size="14.8" font-family="Liberation Sans, sans-serif" font-weight="bold" fill="#111">10 ms</text><text x="245.7" y="690.2" font-size="14.8" text-anchor="middle" font-family="Liberation Sans, sans-serif" font-weight="bold" fill="#111">0</text><text transform="translate(268.2 672.5) rotate(-90)" font-size="15" font-family="Liberation Sans, sans-serif" font-weight="bold" fill="#333" textLength="107.5" lengthAdjust="spacingAndGlyphs">Activation time</text><rect x="53.3" y="680.8" width="25.5" height="1.8" fill="#333"/><text x="45" y="697.5" font-size="14.6" font-family="Liberation Sans, sans-serif" font-weight="bold" fill="#333">1 mm</text><g clip-path="url(#clipA1)"><g filter="url(#jet)"><rect x="301" y="515" width="230" height="198" fill="rgb(138,138,138)"/><path d="M320.0 590.0 C323.7 578.8 337.5 583.0 342.0 588.0 C346.5 593.0 347.0 609.7 347.0 620.0 C347.0 630.3 346.5 644.2 342.0 650.0 C337.5 655.8 323.7 665.0 320.0 655.0 C316.3 645.0 316.3 601.2 320.0 590.0Z" fill="rgb(153,153,153)"/><path d="M345.0 668.0 C354.2 663.2 384.2 669.8 400.0 671.0 C415.8 672.2 428.3 676.5 440.0 675.0 C451.7 673.5 462.5 657.8 470.0 662.0 C477.5 666.2 505.8 693.7 485.0 700.0 C464.2 706.3 368.3 705.3 345.0 700.0 C321.7 694.7 335.8 672.8 345.0 668.0Z" fill="rgb(153,153,153)"/><path d="M346.0 590.0 C346.0 584.5 351.2 580.7 354.0 575.0 C356.8 569.3 359.5 561.5 363.0 556.0 C366.5 550.5 366.8 544.7 375.0 542.0 C383.2 539.3 400.8 534.5 412.0 540.0 C423.2 545.5 435.7 565.0 442.0 575.0 C448.3 585.0 450.0 591.2 450.0 600.0 C450.0 608.8 446.0 620.3 442.0 628.0 C438.0 635.7 432.7 642.3 426.0 646.0 C419.3 649.7 409.0 651.3 402.0 650.0 C395.0 648.7 389.7 643.0 384.0 638.0 C378.3 633.0 373.0 625.0 368.0 620.0 C363.0 615.0 357.7 613.0 354.0 608.0 C350.3 603.0 346.0 595.5 346.0 590.0Z" fill="rgb(120,120,120)"/><path d="M360.0 577.0 C360.0 571.7 364.0 564.8 367.0 560.0 C370.0 555.2 370.8 551.0 378.0 548.0 C385.2 545.0 400.2 540.3 410.0 542.0 C419.8 543.7 431.0 550.0 437.0 558.0 C443.0 566.0 445.5 580.0 446.0 590.0 C446.5 600.0 443.3 611.0 440.0 618.0 C436.7 625.0 431.0 631.0 426.0 632.0 C421.0 633.0 415.2 627.7 410.0 624.0 C404.8 620.3 400.0 614.0 395.0 610.0 C390.0 606.0 384.7 603.0 380.0 600.0 C375.3 597.0 370.3 595.8 367.0 592.0 C363.7 588.2 360.0 582.3 360.0 577.0Z" fill="rgb(94,94,94)"/><path d="M378.0 576.0 C377.2 571.0 381.7 566.0 385.0 562.0 C388.3 558.0 392.8 554.8 398.0 552.0 C403.2 549.2 410.0 544.0 416.0 545.0 C422.0 546.0 429.7 551.3 434.0 558.0 C438.3 564.7 441.8 578.0 442.0 585.0 C442.2 592.0 438.3 597.5 435.0 600.0 C431.7 602.5 426.5 601.5 422.0 600.0 C417.5 598.5 413.3 592.3 408.0 591.0 C402.7 589.7 395.0 594.5 390.0 592.0 C385.0 589.5 378.8 581.0 378.0 576.0Z" fill="rgb(74,74,74)"/><path d="M408.0 557.0 C408.8 554.3 412.8 551.5 416.0 550.0 C419.2 548.5 423.5 545.8 427.0 548.0 C430.5 550.2 435.0 557.8 437.0 563.0 C439.0 568.2 439.8 575.8 439.0 579.0 C438.2 582.2 435.0 583.2 432.0 582.0 C429.0 580.8 424.5 574.7 421.0 572.0 C417.5 569.3 413.2 568.5 411.0 566.0 C408.8 563.5 407.2 559.7 408.0 557.0Z" fill="rgb(48,48,48)"/><path d="M421.0 551.0 C421.5 548.8 426.5 547.5 429.0 549.0 C431.5 550.5 435.3 556.8 436.0 560.0 C436.7 563.2 434.7 567.7 433.0 568.0 C431.3 568.3 428.0 564.8 426.0 562.0 C424.0 559.2 420.5 553.2 421.0 551.0Z" fill="rgb(0,0,0)"/><path d="M441.0 588.0 C443.3 581.0 454.3 579.3 457.0 588.0 C459.7 596.7 457.8 626.0 457.0 640.0 C456.2 654.0 454.7 666.7 452.0 672.0 C449.3 677.3 442.5 679.0 441.0 672.0 C439.5 665.0 443.0 644.0 443.0 630.0 C443.0 616.0 438.7 595.0 441.0 588.0Z" fill="rgb(161,161,161)"/><path d="M453.0 588.0 C454.2 583.0 457.3 588.7 466.0 590.0 C474.7 591.3 497.7 585.7 505.0 596.0 C512.3 606.3 513.8 640.3 510.0 652.0 C506.2 663.7 489.3 663.0 482.0 666.0 C474.7 669.0 470.3 672.3 466.0 670.0 C461.7 667.7 457.2 660.3 456.0 652.0 C454.8 643.7 459.5 630.7 459.0 620.0 C458.5 609.3 451.8 593.0 453.0 588.0Z" fill="rgb(196,196,196)"/><path d="M459.0 590.0 C461.5 588.0 470.2 588.8 476.0 590.0 C481.8 591.2 489.7 593.3 494.0 597.0 C498.3 600.7 504.0 609.5 502.0 612.0 C500.0 614.5 487.3 613.0 482.0 612.0 C476.7 611.0 473.5 607.7 470.0 606.0 C466.5 604.3 462.8 604.7 461.0 602.0 C459.2 599.3 456.5 592.0 459.0 590.0Z" fill="rgb(214,214,214)"/><path d="M452.0 630.0 C456.0 626.0 466.7 624.7 476.0 624.0 C485.3 623.3 502.7 621.3 508.0 626.0 C513.3 630.7 514.3 646.7 508.0 652.0 C501.7 657.3 479.3 658.7 470.0 658.0 C460.7 657.3 455.0 652.7 452.0 648.0 C449.0 643.3 448.0 634.0 452.0 630.0Z" fill="rgb(224,224,224)"/><path d="M456.0 634.0 C460.0 631.7 472.2 631.2 480.0 631.0 C487.8 630.8 499.2 630.3 503.0 633.0 C506.8 635.7 508.5 644.0 503.0 647.0 C497.5 650.0 477.8 651.3 470.0 651.0 C462.2 650.7 458.3 647.8 456.0 645.0 C453.7 642.2 452.0 636.3 456.0 634.0Z" fill="rgb(255,255,255)"/></g></g><ellipse cx="458" cy="654.3" rx="11.5" ry="10.5" fill="none" stroke="#1a1a1a" stroke-width="1.7" stroke-dasharray="3 2.2"/><path d="M428.8 547.5 C429.3 549.6 430.6 555.8 432.0 560.0 C433.4 564.2 435.2 568.7 437.5 572.5 C439.8 576.3 443.1 580.3 446.0 583.0 C448.9 585.7 451.8 587.6 455.0 588.8 C458.2 590.0 461.7 590.2 465.0 590.0 C468.3 589.8 473.3 587.9 475.0 587.5" fill="none" stroke="#111" stroke-width="1.9" stroke-dasharray="3.4 2.2"/><path d="M422.5 565.0 Q396.4 602.8 356.8 615.0" fill="none" stroke="#2e2e2e" stroke-width="2.1"/><path d="M348.8 617.5 L357.4 609.8 L360.3 619.0 Z" fill="#2e2e2e"/><path d="M427.5 565.0 Q439.9 606.6 430.7 645.6" fill="none" stroke="#2e2e2e" stroke-width="2.1"/><path d="M428.8 653.8 L426.5 642.5 L435.9 644.7 Z" fill="#2e2e2e"/><path d="M424.3 555.0 L424.3 566.0" stroke="#fff" stroke-width="1.9" stroke-linecap="butt"/><path d="M419.5 557.8 L429.1 563.2" stroke="#fff" stroke-width="1.9" stroke-linecap="butt"/><path d="M429.1 557.8 L419.5 563.2" stroke="#fff" stroke-width="1.9" stroke-linecap="butt"/><text x="438.8" y="559.5" font-family="Liberation Sans, sans-serif" font-weight="bold" fill="#333" font-size="17">SVC</text><text x="341.3" y="643.8" font-size="16.5" font-family="Liberation Sans, sans-serif" font-weight="bold" fill="#333">RAA</text><text x="430" y="680.5" font-size="16" font-family="Liberation Sans, sans-serif" font-weight="bold" fill="#333">IVC</text><rect x="511.4" y="560" width="16" height="115.5" fill="url(#cbar)"/><text x="500.0" y="557.3" font-size="14.8" font-family="Liberation Sans, sans-serif" font-weight="bold" fill="#111">18 ms</text><text x="519.4" y="690.2" font-size="14.8" text-anchor="middle" font-family="Liberation Sans, sans-serif" font-weight="bold" fill="#111">0</text><text transform="translate(541.9 672.5) rotate(-90)" font-size="15" font-family="Liberation Sans, sans-serif" font-weight="bold" fill="#333" textLength="107.5" lengthAdjust="spacingAndGlyphs">Activation time</text><rect x="333" y="680.8" width="25.8" height="1.8" fill="#333"/><text x="324.5" y="697.5" font-size="14.6" font-family="Liberation Sans, sans-serif" font-weight="bold" fill="#333">1 mm</text><g clip-path="url(#clipA2)"><g filter="url(#jet)"><rect x="551" y="516" width="230" height="196" fill="url(#gA2)"/><path d="M596.0 562.0 C597.0 555.0 606.7 544.7 612.0 542.0 C617.3 539.3 626.0 541.3 628.0 546.0 C630.0 550.7 627.7 563.7 624.0 570.0 C620.3 576.3 610.7 585.3 606.0 584.0 C601.3 582.7 595.0 569.0 596.0 562.0Z" fill="rgb(184,184,184)"/><path d="M576.0 583.0 C579.7 579.0 593.7 577.2 598.0 580.0 C602.3 582.8 603.3 595.7 602.0 600.0 C600.7 604.3 594.3 605.3 590.0 606.0 C585.7 606.7 578.3 607.8 576.0 604.0 C573.7 600.2 572.3 587.0 576.0 583.0Z" fill="rgb(224,224,224)"/><path d="M578.0 635.0 C581.7 631.7 595.3 629.5 600.0 632.0 C604.7 634.5 607.0 645.7 606.0 650.0 C605.0 654.3 598.7 657.7 594.0 658.0 C589.3 658.3 580.7 655.8 578.0 652.0 C575.3 648.2 574.3 638.3 578.0 635.0Z" fill="rgb(217,217,217)"/><path d="M600.0 615.0 C604.7 604.0 620.5 606.3 628.0 608.0 C635.5 609.7 641.7 617.2 645.0 625.0 C648.3 632.8 648.8 645.2 648.0 655.0 C647.2 664.8 648.0 680.8 640.0 684.0 C632.0 687.2 606.7 685.5 600.0 674.0 C593.3 662.5 595.3 626.0 600.0 615.0Z" fill="rgb(194,194,194)"/><path d="M622.0 546.0 C626.7 541.2 645.3 539.5 650.0 546.0 C654.7 552.5 652.5 577.3 650.0 585.0 C647.5 592.7 639.7 593.7 635.0 592.0 C630.3 590.3 624.2 582.7 622.0 575.0 C619.8 567.3 617.3 550.8 622.0 546.0Z" fill="rgb(153,153,153)"/><path d="M645.0 546.0 C648.8 538.8 667.8 539.7 675.0 542.0 C682.2 544.3 685.5 552.8 688.0 560.0 C690.5 567.2 692.7 579.3 690.0 585.0 C687.3 590.7 678.3 594.0 672.0 594.0 C665.7 594.0 656.5 593.0 652.0 585.0 C647.5 577.0 641.2 553.2 645.0 546.0Z" fill="rgb(128,128,128)"/><path d="M655.0 545.0 C657.3 542.5 669.5 543.2 674.0 545.0 C678.5 546.8 681.7 552.5 682.0 556.0 C682.3 559.5 679.7 565.3 676.0 566.0 C672.3 566.7 663.5 563.5 660.0 560.0 C656.5 556.5 652.7 547.5 655.0 545.0Z" fill="rgb(107,107,107)"/><path d="M698.0 594.0 C706.3 590.5 743.0 583.0 752.0 588.0 C761.0 593.0 754.8 618.8 752.0 624.0 C749.2 629.2 741.2 620.3 735.0 619.0 C728.8 617.7 720.5 617.7 715.0 616.0 C709.5 614.3 704.8 612.7 702.0 609.0 C699.2 605.3 689.7 597.5 698.0 594.0Z" fill="rgb(122,122,122)"/><path d="M690.0 655.0 C691.7 647.7 700.0 640.8 705.0 640.0 C710.0 639.2 718.3 643.3 720.0 650.0 C721.7 656.7 719.2 674.3 715.0 680.0 C710.8 685.7 699.2 688.2 695.0 684.0 C690.8 679.8 688.3 662.3 690.0 655.0Z" fill="rgb(102,102,102)"/><circle cx="678.0" cy="558.0" r="6.5" fill="rgb(20,20,20)"/><circle cx="686.0" cy="568.0" r="5.0" fill="rgb(31,31,31)"/><circle cx="696.5" cy="594.0" r="6.5" fill="rgb(255,255,255)"/><circle cx="715.0" cy="604.0" r="2.5" fill="rgb(46,46,46)"/></g></g><path d="M685.0 547.5 C685.7 549.6 687.3 555.8 689.0 560.0 C690.7 564.2 692.7 568.7 695.0 572.5 C697.3 576.3 700.1 580.1 703.0 583.0 C705.9 585.9 709.5 588.7 712.5 590.0 C715.5 591.3 718.1 591.3 721.0 591.0 C723.9 590.7 728.5 588.5 730.0 588.0" fill="none" stroke="#111" stroke-width="1.9" stroke-dasharray="3.4 2.2"/><path d="M678.8 563.8 Q652.5 594.2 604.7 593.9" fill="none" stroke="#2e2e2e" stroke-width="2.1"/><path d="M596.3 593.8 L606.8 589.1 L606.8 598.7 Z" fill="#2e2e2e"/><path d="M682.5 565.0 Q687.8 590.0 676.4 599.6" fill="none" stroke="#2e2e2e" stroke-width="2.1"/><path d="M670.0 605.0 L674.9 594.6 L681.1 601.9 Z" fill="#2e2e2e"/><path d="M738.8 640.0 Q704.2 639.8 692.9 619.8" fill="none" stroke="#2e2e2e" stroke-width="2.1"/><path d="M688.8 612.5 L698.1 619.3 L689.8 624.0 Z" fill="#2e2e2e"/><path d="M738.8 643.8 Q691.9 663.6 645.4 647.7" fill="none" stroke="#2e2e2e" stroke-width="2.1"/><path d="M637.5 645.0 L649.0 643.9 L645.9 652.9 Z" fill="#2e2e2e"/><path d="M681.3 555.0 L681.3 566.0" stroke="#fff" stroke-width="1.9" stroke-linecap="butt"/><path d="M676.5 557.8 L686.1 563.2" stroke="#fff" stroke-width="1.9" stroke-linecap="butt"/><path d="M686.1 557.8 L676.5 563.2" stroke="#fff" stroke-width="1.9" stroke-linecap="butt"/><path d="M742.0 635.5 L742.0 646.5" stroke="#fff" stroke-width="1.9" stroke-linecap="butt"/><path d="M737.2 638.2 L746.8 643.8" stroke="#fff" stroke-width="1.9" stroke-linecap="butt"/><path d="M746.8 638.2 L737.2 643.8" stroke="#fff" stroke-width="1.9" stroke-linecap="butt"/><text x="695" y="559.5" font-family="Liberation Sans, sans-serif" font-weight="bold" fill="#333" font-size="17">SVC</text><text x="588.8" y="630" font-size="16.5" font-family="Liberation Sans, sans-serif" font-weight="bold" fill="#333">RAA</text><text x="722" y="629.5" font-size="16.5" font-family="Liberation Sans, sans-serif" font-weight="bold" fill="#333">IAS</text><rect x="760.0" y="560" width="16" height="115.5" fill="url(#cbar)"/><text x="748.3" y="557.3" font-size="14.8" font-family="Liberation Sans, sans-serif" font-weight="bold" fill="#111">16 ms</text><text x="768.0" y="690.2" font-size="14.8" text-anchor="middle" font-family="Liberation Sans, sans-serif" font-weight="bold" fill="#111">0</text><text transform="translate(790.5 672.5) rotate(-90)" font-size="15" font-family="Liberation Sans, sans-serif" font-weight="bold" fill="#333" textLength="107.5" lengthAdjust="spacingAndGlyphs">Activation time</text><g clip-path="url(#clipA3)"><g filter="url(#jet)"><rect x="791" y="515" width="230" height="198" fill="url(#gA3)"/><path d="M884.0 545.0 C887.5 539.5 903.7 540.5 910.0 543.0 C916.3 545.5 920.8 553.8 922.0 560.0 C923.2 566.2 920.3 574.7 917.0 580.0 C913.7 585.3 906.7 592.7 902.0 592.0 C897.3 591.3 892.0 583.8 889.0 576.0 C886.0 568.2 880.5 550.5 884.0 545.0Z" fill="rgb(194,194,194)"/><path d="M913.0 553.0 C915.0 551.3 922.0 563.5 926.0 570.0 C930.0 576.5 937.0 587.5 937.0 592.0 C937.0 596.5 929.8 599.0 926.0 597.0 C922.2 595.0 916.2 587.3 914.0 580.0 C911.8 572.7 911.0 554.7 913.0 553.0Z" fill="rgb(230,230,230)"/><path d="M942.0 600.0 C945.7 596.0 963.7 593.0 970.0 592.0 C976.3 591.0 978.7 591.0 980.0 594.0 C981.3 597.0 981.0 607.0 978.0 610.0 C975.0 613.0 967.0 611.0 962.0 612.0 C957.0 613.0 951.3 618.0 948.0 616.0 C944.7 614.0 938.3 604.0 942.0 600.0Z" fill="rgb(128,128,128)"/><path d="M855.0 549.0 C858.8 546.0 872.5 548.5 875.0 551.0 C877.5 553.5 873.8 561.0 870.0 564.0 C866.2 567.0 854.5 571.5 852.0 569.0 C849.5 566.5 851.2 552.0 855.0 549.0Z" fill="rgb(242,242,242)"/><path d="M828.0 591.0 C830.3 586.7 843.5 585.2 849.0 586.0 C854.5 586.8 860.0 592.2 861.0 596.0 C862.0 599.8 859.3 606.3 855.0 609.0 C850.7 611.7 839.5 615.0 835.0 612.0 C830.5 609.0 825.7 595.3 828.0 591.0Z" fill="rgb(242,242,242)"/></g></g><path d="M918.8 547.5 C919.5 549.8 921.1 556.4 923.0 561.0 C924.9 565.6 927.5 571.1 930.0 575.0 C932.5 578.9 935.1 582.0 938.0 584.5 C940.9 587.0 944.5 589.0 947.5 590.0 C950.5 591.0 953.3 590.9 956.0 590.5 C958.7 590.1 962.5 588.0 963.8 587.5" fill="none" stroke="#111" stroke-width="1.9" stroke-dasharray="3.4 2.2"/><path d="M978.8 641.3 Q921.9 625.7 900.9 579.0" fill="none" stroke="#2e2e2e" stroke-width="2.1"/><path d="M897.5 571.3 L906.2 578.9 L897.4 582.8 Z" fill="#2e2e2e"/><path d="M978.8 645.0 Q921.9 671.4 864.9 640.3" fill="none" stroke="#2e2e2e" stroke-width="2.1"/><path d="M857.5 636.3 L869.0 637.1 L864.4 645.5 Z" fill="#2e2e2e"/><path d="M982.0 636.0 L982.0 647.0" stroke="#fff" stroke-width="1.9" stroke-linecap="butt"/><path d="M977.2 638.8 L986.8 644.2" stroke="#fff" stroke-width="1.9" stroke-linecap="butt"/><path d="M986.8 638.8 L977.2 644.2" stroke="#fff" stroke-width="1.9" stroke-linecap="butt"/><text x="928.8" y="559.5" font-family="Liberation Sans, sans-serif" font-weight="bold" fill="#333" font-size="17">SVC</text><text x="828.8" y="630" font-size="16.5" font-family="Liberation Sans, sans-serif" font-weight="bold" fill="#333">RAA</text><text x="962.5" y="629.5" font-size="16.5" font-family="Liberation Sans, sans-serif" font-weight="bold" fill="#333">IAS</text><rect x="1005.8" y="560" width="16" height="115.5" fill="url(#cbar)"/><text x="993.8" y="557.3" font-size="14.8" font-family="Liberation Sans, sans-serif" font-weight="bold" fill="#111">18 ms</text><text x="1013.8" y="690.2" font-size="14.8" text-anchor="middle" font-family="Liberation Sans, sans-serif" font-weight="bold" fill="#111">0</text><text transform="translate(1036.3 672.5) rotate(-90)" font-size="15" font-family="Liberation Sans, sans-serif" font-weight="bold" fill="#333" textLength="107.5" lengthAdjust="spacingAndGlyphs">Activation time</text>
<g opacity="0.95"><g transform="translate(808.3 697.7)"><text x="0" y="0" font-size="26.3" style="font-family:'Liberation Sans','Noto Sans CJK SC',sans-serif" fill="#555" opacity="0.85" textLength="236.7" lengthAdjust="spacing">中国斑马鱼信息中心</text></g><g transform="translate(807.2 696.6)"><text x="0" y="0" font-size="26.3" style="font-family:'Liberation Sans','Noto Sans CJK SC',sans-serif" fill="#fff" stroke="#fff" stroke-width="0.3" textLength="236.7" lengthAdjust="spacing">中国斑马鱼信息中心</text></g><g stroke="#8a8a8a" stroke-width="1" fill="#fff"><path d="M773 669.5c-6.6 0-11.8 4.6-11.8 10.3 0 3.2 1.7 6 4.4 8l-1.3 4 4.6-2.4c1.3.4 2.7.6 4.1.6 6.600 0 11.800-4.600 11.800-10.200s-5.200-10.300-11.800-10.300z"/><path d="M789 680.5c-6.4 0-11.600 4.300-11.600 9.700s5.200 9.700 11.600 9.700c1.300 0 2.600-.2 3.800-.5l4.300 2.300-1.200-3.700c2.900-1.800 4.700-4.600 4.700-7.800 0-5.400-5.200-9.700-11.600-9.700z"/></g><circle cx="768.5" cy="677.0" r="1.3" fill="#999"/><circle cx="777.0" cy="677.0" r="1.3" fill="#999"/><circle cx="785.0" cy="687.5" r="1.1" fill="#999"/><circle cx="793.0" cy="687.5" r="1.1" fill="#999"/></g>
</svg>
</body></html>
